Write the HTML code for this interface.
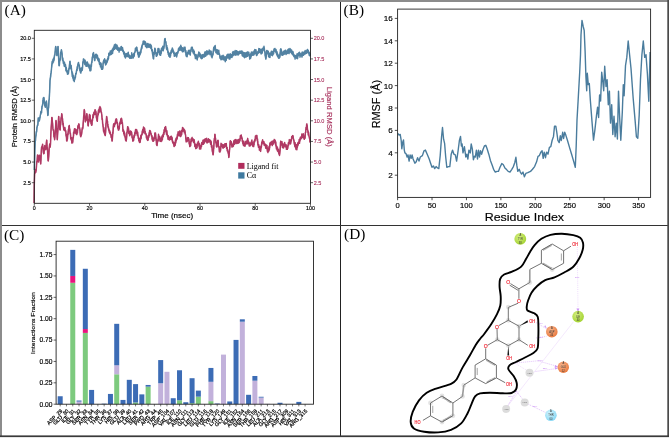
<!DOCTYPE html>
<html><head><meta charset="utf-8"><style>
html,body{margin:0;padding:0;background:#fff;}
#wrap{position:relative;width:669px;height:438px;overflow:hidden;background:#fff;}
svg{position:absolute;left:0;top:0;will-change:transform;}
</style></head><body><div id="wrap">
<svg width="669" height="438" viewBox="0 0 669 438">
<rect x="0" y="0" width="669" height="438" fill="#fff"/>
<text x="4.6" y="15.3" style="font-family:'Liberation Serif', serif;font-size:15.3px">(A)</text>
<polyline points="34.1,203 34.3,185 34.6,174 34.95,173.45 35.3,171 35.6,169.41 35.9,172.17 36.2,170 36.53,165.81 36.85,161.5 37.17,161.44 37.5,155 37.83,155.01 38.17,161.54 38.5,162 38.87,157.87 39.23,155.86 39.6,155.2 39.97,160.08 40.33,158.92 40.7,164 41,159.43 41.3,150.28 41.6,147 41.93,148.12 42.27,147.18 42.6,144.2 42.97,148.71 43.33,152.03 43.7,153.8 44.07,153.49 44.43,147.62 44.8,145.6 45.13,149.59 45.47,146.49 45.8,149.7 46.1,148.07 46.4,142.09 46.7,140.1 47.1,146.65 47.5,149.7 47.85,157.32 48.2,161 48.53,159.17 48.87,154.55 49.2,148.4 49.53,144.97 49.85,143.82 50.17,147.29 50.5,144.2 50.85,133.49 51.2,127.4 51.5,123.51 51.8,117.5 52.08,117.66 52.36,121.93 52.64,123.71 52.92,128.66 53.2,130.1 53.55,130.09 53.9,136.72 54.25,135.25 54.6,139.7 54.95,137.33 55.3,131.66 55.65,126.42 56,120.5 56.33,123.52 56.65,130.96 56.97,133.09 57.3,139.7 57.58,135.54 57.86,131.51 58.14,128.18 58.42,119.6 58.7,116.4 59.05,121.71 59.4,121.56 59.75,129.24 60.1,130.1 60.42,125.43 60.74,124.49 61.06,117.61 61.38,118.64 61.7,113.7 62,114.63 62.3,118.72 62.6,118.69 62.9,124.68 63.2,123.15 63.5,127.4 63.79,129.81 64.07,127.72 64.36,130.51 64.64,129.92 64.93,127.56 65.21,130.95 65.5,130.1 65.78,131.05 66.06,135.59 66.34,134.52 66.62,140.61 66.9,141.1 67.2,137.83 67.5,139.04 67.8,133.79 68.1,134.48 68.4,129.17 68.7,130.48 69,126 69.29,125.4 69.57,130.72 69.86,128.88 70.14,134.01 70.43,133.24 70.71,138.89 71,138.4 71.28,140.05 71.56,137.78 71.84,143.12 72.12,140.98 72.4,142.5 72.7,142.77 73,137.39 73.3,138 73.6,132.15 73.9,133.13 74.2,133.18 74.5,128.8 74.79,130.97 75.07,132.88 75.36,129 75.64,129.96 75.93,133.73 76.21,132.5 76.5,134.2 76.81,134.68 77.12,129.39 77.44,132.85 77.75,126.57 78.06,125.36 78.38,126.99 78.69,124.48 79,124 79.32,128.39 79.64,127.57 79.96,129.57 80.28,134.82 80.6,136.3 80.9,136.73 81.2,132.94 81.5,134.72 81.8,132.81 82.1,128.42 82.4,127.58 82.7,128.8 83.02,126.81 83.34,121.64 83.66,116.26 83.98,114.82 84.3,109.6 84.67,111.51 85.03,118.33 85.4,121.9 85.75,119.16 86.1,120.44 86.45,116.35 86.8,113.7 87.08,115.03 87.36,119.83 87.64,119.33 87.92,124.38 88.2,126 88.53,122.41 88.85,122.25 89.17,116.71 89.5,114.4 89.8,117.22 90.1,115.31 90.4,121.32 90.7,119.23 91,123.73 91.3,122.37 91.6,125.3 91.89,125.11 92.17,120.35 92.46,120.9 92.74,117.29 93.03,114.46 93.31,117.82 93.6,113.7 93.9,112.31 94.2,113.62 94.5,114.47 94.8,114.38 95.1,109.68 95.4,112.03 95.7,111 96.03,112.96 96.35,117.93 96.67,117.51 97,120.5 97.3,121.34 97.6,116.87 97.9,115.07 98.2,112.22 98.5,109.99 98.8,111 99.08,112.65 99.37,107.67 99.65,111.3 99.93,106.54 100.22,107.54 100.5,107.5 100.83,111.1 101.15,112.26 101.47,112.22 101.8,115.1 102.08,119.69 102.36,118.77 102.64,123.69 102.92,124.34 103.2,127.4 103.5,131.21 103.8,127.62 104.1,132.9 104.4,130.13 104.7,134.77 105,131.96 105.3,135.6 105.62,131.43 105.95,123.49 106.27,122.62 106.6,116.4 106.9,117.53 107.2,121.18 107.5,121.14 107.8,126.22 108.1,127.27 108.4,126.79 108.7,130.1 109,128.94 109.3,132.18 109.6,130.35 109.9,133.24 110.2,131.88 110.5,134.35 110.8,134.2 111.12,137.43 111.45,136.17 111.77,137.08 112.1,141.1 112.38,139.33 112.66,132.17 112.94,133.35 113.22,129.46 113.5,124.7 113.8,123.62 114.1,126.37 114.4,126.64 114.7,123.3 115,124 115.32,123.87 115.64,119.7 115.96,120.13 116.28,119.04 116.6,119.2 116.9,123.09 117.2,122.22 117.5,123.58 117.8,128.2 118.1,127.86 118.4,130.1 118.7,130.14 119,126.48 119.3,128.6 119.6,122.98 119.9,124.3 120.2,121.9 120.52,120.84 120.84,118.61 121.16,123.27 121.48,118.12 121.8,119.9 122.08,123.16 122.36,122.35 122.64,125.43 122.92,131.23 123.2,130.8 123.48,129.96 123.77,133.94 124.05,131.15 124.33,135.7 124.62,132.91 124.9,135.6 125.23,137.79 125.55,140.26 125.88,137.18 126.2,141.1 126.55,138.67 126.9,132.12 127.25,132.19 127.6,126.7 127.9,126.73 128.2,129.56 128.5,128.01 128.8,133.4 129.1,131.43 129.4,133.6 129.7,135.66 130,131.34 130.3,134.72 130.6,131.03 130.9,133.5 131.2,131.5 131.52,132.21 131.84,134.68 132.16,137.89 132.48,136.99 132.8,141.1 133.1,140.9 133.4,137.67 133.7,140.28 134,135.2 134.3,137.25 134.6,134.9 134.92,132.2 135.24,133.61 135.56,129.46 135.88,132.83 136.2,129.5 136.5,133.1 136.8,129.86 137.1,134.41 137.4,135.55 137.7,132.2 138,135.6 138.28,138.54 138.57,137.49 138.85,140.97 139.13,138.59 139.42,142.2 139.7,142.5 139.99,140.82 140.27,142.02 140.56,137.24 140.84,135.3 141.13,138.79 141.41,134.86 141.7,134.2 142,134.37 142.3,131.02 142.6,130.74 142.9,129.12 143.2,132.72 143.5,127.04 143.8,128.8 144.09,131.59 144.37,127.92 144.66,128.48 144.94,133.68 145.23,131.57 145.51,133.5 145.8,133.6 146.1,133.96 146.4,137.88 146.7,135.63 147,139.24 147.3,137.12 147.6,140.4 147.89,140.02 148.18,140.06 148.46,135.54 148.75,137.37 149.04,133.99 149.32,135.4 149.61,130.54 149.9,130.8 150.2,132.6 150.5,131.3 150.8,134.02 151.1,133.68 151.4,135.93 151.7,136.3 151.98,135.67 152.27,139.92 152.55,137.37 152.83,139.97 153.12,141.21 153.4,141.1 153.69,138.43 153.97,140.59 154.26,136.9 154.54,138.49 154.83,133.03 155.11,136.62 155.4,132.9 155.68,134.38 155.96,140.09 156.24,139.08 156.52,144.71 156.8,145.2 157.09,145.59 157.37,141.98 157.66,141.88 157.94,139.19 158.23,140.81 158.51,134.33 158.8,135.6 159.1,138.63 159.4,139.73 159.7,136.85 160,141.32 160.3,138.45 160.6,139.65 160.9,141.1 161.2,141.49 161.5,136.99 161.8,140.85 162.1,135.63 162.4,139.7 162.7,135.03 163,135.6 163.3,136.77 163.6,132.53 163.9,134.58 164.2,129.46 164.5,132 164.8,127.41 165.1,129.9 165.4,127.4 165.68,126.57 165.97,130.62 166.25,132.68 166.53,134.34 166.82,130.6 167.1,134.2 167.39,136.16 167.67,135.2 167.96,139.16 168.24,135.63 168.53,138.72 168.81,137.96 169.1,139.7 169.4,140.07 169.7,137.18 170,139.48 170.3,139.07 170.6,136.4 170.9,139.18 171.2,137 171.49,136.25 171.77,139.58 172.06,137.36 172.34,141 172.63,142.29 172.91,142.92 173.2,143.2 173.48,142.68 173.76,142.18 174.04,146.55 174.32,146 174.6,145.2 174.89,142.8 175.17,145.58 175.46,140.01 175.74,142.96 176.03,138.27 176.31,140.57 176.6,138.4 176.9,137.05 177.2,138.92 177.5,134.15 177.8,136.15 178.1,131.78 178.4,135.08 178.7,132.9 179,132.18 179.3,135.81 179.6,131.04 179.9,131.83 180.2,132.19 180.5,136.6 180.8,134.2 181.09,136.01 181.37,130.48 181.66,134.58 181.94,132.19 182.23,131.17 182.51,127.51 182.8,128.8 183.11,130.78 183.43,129.07 183.74,131 184.06,129.15 184.37,132.85 184.69,130.47 185,131.5 185.28,134.77 185.56,134.58 185.84,139.27 186.12,141.83 186.4,141.1 186.69,141.87 186.97,139.01 187.26,141.25 187.54,137.93 187.83,137.61 188.11,140.63 188.4,137.7 188.68,140.57 188.96,139 189.24,143.75 189.52,143.19 189.8,146.6 190.09,145.95 190.37,142.08 190.66,145.74 190.94,139.26 191.23,141.57 191.51,138.17 191.8,138.4 192.1,139.31 192.4,138.55 192.7,140.53 193,141.31 193.3,139.82 193.6,142.56 193.9,141.1 194.2,139.67 194.5,142.27 194.8,146.46 195.1,143.81 195.4,144.79 195.7,148.32 196,148.6 196.29,145.85 196.57,144.37 196.86,147.92 197.14,147.39 197.43,142.89 197.71,144.17 198,142.5 198.3,141.31 198.6,142.41 198.9,146.07 199.2,143.4 199.5,149.04 199.8,146.09 200.1,148 200.39,148.75 200.67,149.1 200.96,148.01 201.24,143.88 201.53,146.52 201.81,142.37 202.1,143.8 202.38,142.75 202.66,144.24 202.94,140.11 203.22,140.28 203.5,144.27 203.78,140.06 204.06,139.8 204.34,143.11 204.62,141.24 204.9,139.7 205.2,138.8 205.5,140.99 205.8,140.75 206.1,139.46 206.4,142.09 206.7,138.3 207,143.07 207.3,139.89 207.6,141.1 207.9,140.34 208.2,142.21 208.5,138.84 208.8,141.25 209.1,140.84 209.4,140.71 209.7,139.7 209.99,142.44 210.27,140.54 210.56,144.21 210.84,142 211.13,141.22 211.41,147.02 211.7,145.2 211.98,145.84 212.26,150.34 212.54,152.01 212.82,152.14 213.1,154.8 213.4,152.58 213.7,148.51 214,141.94 214.3,138.41 214.6,138.85 214.9,134.2 215.22,138.2 215.54,138.04 215.86,142.84 216.18,141.92 216.5,146.6 216.78,146.97 217.06,142.98 217.34,145.62 217.62,140.43 217.9,141.1 218.19,140.32 218.47,146.86 218.76,146.6 219.04,146.52 219.33,151.61 219.61,148.12 219.9,152.1 220.18,150.88 220.46,151.01 220.74,149.1 221.02,143.3 221.3,143.8 221.6,146.05 221.9,144.26 222.2,146.75 222.5,144.94 222.8,148.03 223.1,144.74 223.4,148 223.69,145.02 223.97,145.74 224.26,145.18 224.54,147.15 224.83,143.81 225.11,145.45 225.4,143.8 225.7,146.03 226,143.75 226.3,143.49 226.6,148.36 226.9,147.16 227.2,150.86 227.5,149.3 227.82,150.81 228.15,152.11 228.48,154.2 228.8,157.5 229.15,155.06 229.5,150.69 229.85,147.24 230.2,141.1 230.5,140.79 230.8,143.99 231.1,141.56 231.4,142.5 231.7,145.94 232,144 232.3,146.6 232.59,146.61 232.87,144.37 233.16,146.48 233.44,145.89 233.73,141.37 234.01,140.59 234.3,142.5 234.61,144.32 234.92,139.76 235.23,143.53 235.54,142.94 235.86,139.43 236.17,142.17 236.48,140.2 236.79,143.57 237.1,141.1 237.39,140.27 237.67,143.08 237.96,139.85 238.24,143.31 238.53,139.45 238.81,142.9 239.1,142.5 239.4,139.28 239.7,139.77 240,140.75 240.3,135.7 240.6,135.91 240.9,137.73 241.2,134.9 241.49,137.04 241.77,136.83 242.06,139.18 242.34,141.59 242.63,140.66 242.91,144.01 243.2,143.8 243.5,145.54 243.8,141.34 244.1,145.72 244.4,143.11 244.7,143.59 245,146.23 245.3,144.5 245.6,141.88 245.9,141.22 246.2,144.01 246.5,141.28 246.8,143.07 247.1,142.67 247.4,143.87 247.7,138.35 248,140.4 248.3,142.09 248.6,141.51 248.9,144.09 249.2,145.92 249.5,143.07 249.8,146.01 250.1,146 250.4,144.01 250.7,145.23 251,142.15 251.3,143.78 251.6,141.1 251.9,140.01 252.2,144.88 252.5,143.04 252.8,146.08 253.1,143.91 253.4,146.6 253.68,146.64 253.96,141.63 254.24,140.93 254.52,142.1 254.8,139.7 255.1,141 255.4,136.05 255.7,136.45 256,135.45 256.3,138.33 256.6,135.6 256.92,135.43 257.24,140.09 257.56,139 257.88,144.92 258.2,145.2 258.5,147.32 258.8,144.83 259.1,146.39 259.4,150.09 259.7,147.53 260,146.88 260.3,150 260.59,151.4 260.87,149.58 261.16,145.76 261.44,147.01 261.73,142.14 262.01,143.35 262.3,141.1 262.6,139.79 262.9,142.53 263.2,141.12 263.5,143.44 263.8,142.17 264.1,145.14 264.4,143.8 264.69,143.67 264.97,145.47 265.26,144.21 265.54,147.04 265.83,148.2 266.11,144.88 266.4,146.6 266.7,148.32 267,145.41 267.3,151.24 267.6,147.94 267.9,152.64 268.2,149 268.5,151.4 268.79,150.99 269.07,146.19 269.36,149.67 269.64,146.95 269.93,142.92 270.21,145.23 270.5,142.5 270.8,143.84 271.1,142.09 271.4,144.08 271.7,141.98 272,141.31 272.3,145.6 272.6,143.8 272.9,140.96 273.2,144.28 273.5,140.75 273.8,142.25 274.1,139.98 274.4,141.85 274.7,139.7 274.99,143.24 275.27,140.81 275.56,144.94 275.84,141.92 276.13,146.4 276.41,148.92 276.7,148 276.98,146.44 277.26,150.73 277.54,147.83 277.82,150.88 278.1,150.7 278.45,149.47 278.8,153.52 279.15,152.09 279.5,155.5 279.82,153.35 280.15,150.11 280.48,142.69 280.8,141.1 281.1,142.94 281.4,141.87 281.7,145.05 282,141.61 282.3,147.27 282.6,143.56 282.9,146.6 283.19,148.14 283.47,144.88 283.76,147.64 284.04,144.07 284.33,145.23 284.61,142.48 284.9,143.8 285.2,146.26 285.5,144.71 285.8,147.04 286.1,144.83 286.4,149.38 286.7,145.99 287,148.6 287.29,149.33 287.57,145.74 287.86,148.21 288.14,144.48 288.43,142.5 288.71,144.78 289,142.5 289.3,139.6 289.6,143.35 289.9,142.59 290.2,140.19 290.5,144.03 290.8,140.87 291.1,141.1 291.42,140.42 291.74,136.5 292.06,137.28 292.38,137.8 292.7,135.6 293,135.87 293.3,139.04 293.6,139.09 293.9,140.56 294.2,141.59 294.5,143.8 294.8,146.51 295.1,142.83 295.4,147.45 295.7,144.25 296,149.41 296.3,146.84 296.6,148 296.89,149.74 297.17,144.39 297.46,146.94 297.74,143.07 298.03,145.18 298.31,142.29 298.6,142.5 298.9,142.91 299.2,139.43 299.5,143.34 299.8,139.29 300.1,140.11 300.4,137.24 300.7,138.4 300.99,138.86 301.27,136.77 301.56,138.46 301.84,133.97 302.13,137.09 302.41,134.9 302.7,134.9 303,137.53 303.3,133.83 303.6,137.31 303.9,136.04 304.2,139.28 304.5,137.26 304.8,138.4 305.1,137.62 305.4,132.27 305.7,132.41 306,127.38 306.3,129.49 306.6,124.7 306.9,123.85 307.2,125.86 307.5,129.5 307.85,130.3 308.2,135.02 308.55,132.31 308.9,135.6 309.27,136.82 309.63,137.72 310,142.5" fill="none" stroke="#b03a64" stroke-width="1.45" stroke-linejoin="round"/>
<polyline points="34.1,203 34.3,185 34.6,174 35.3,171 35.75,171.31 36.2,170 36.63,163.39 37.07,159.32 37.5,155 38,159.11 38.5,162 38.87,158.03 39.23,158.79 39.6,155.2 39.97,157.25 40.33,162.96 40.7,164 41.15,155.14 41.6,147 42.1,146.2 42.6,144.2 42.97,149.24 43.33,152.48 43.7,153.8 44.07,148.96 44.43,149.14 44.8,145.6 45.3,148.89 45.8,149.7 46.25,143.52 46.7,140.1 47.1,145.91 47.5,149.7 47.85,154.43 48.2,161 48.7,156.56 49.2,148.4 49.63,144.83 50.07,146.97 50.5,144.2 50.85,135.22 51.2,127.4 51.8,117.5 52.15,121.81 52.5,123.09 52.85,127.75 53.2,130.1 53.67,131.84 54.13,137.07 54.6,139.7 55.07,132.53 55.53,127.59 56,120.5 56.43,126.43 56.87,135.41 57.3,139.7 57.65,132.2 58,127.64 58.35,124.06 58.7,116.4 59.17,122.49 59.63,124.43 60.1,130.1 60.5,124.01 60.9,121.19 61.3,116.77 61.7,113.7 62.06,117.03 62.42,120.64 62.78,121.19 63.14,126.08 63.5,127.4 63.9,126.94 64.3,129.45 64.7,128.38 65.1,130.1 65.5,130.1 65.85,132.39 66.2,136.97 66.55,137.95 66.9,141.1 67.32,139.05 67.74,134.72 68.16,131.48 68.58,129.85 69,126 69.4,128.01 69.8,131.98 70.2,133.78 70.6,134.66 71,138.4 71.35,138.13 71.7,142.03 72.05,141.09 72.4,142.5 72.82,141.79 73.24,136.21 73.66,136.2 74.08,130.11 74.5,128.8 74.9,130.67 75.3,130.25 75.7,132.44 76.1,132.63 76.5,134.2 76.86,134.19 77.21,129.51 77.57,131.06 77.93,127.42 78.29,128.06 78.64,123.51 79,124 79.4,128.94 79.8,129.25 80.2,133.62 80.6,136.3 80.95,134.04 81.3,135.77 81.65,132.96 82,130.73 82.35,129.12 82.7,128.8 83.1,122.65 83.5,119.54 83.9,112.45 84.3,109.6 84.67,114.93 85.03,116.82 85.4,121.9 85.87,118.44 86.33,118.01 86.8,113.7 87.15,118.08 87.5,121 87.85,121.43 88.2,126 88.63,120.12 89.07,118.85 89.5,114.4 89.92,114.73 90.34,119.65 90.76,121.83 91.18,122.69 91.6,125.3 92,124.67 92.4,118.99 92.8,116.14 93.2,114.9 93.6,113.7 93.95,115.14 94.3,111.93 94.65,112.88 95,109.71 95.35,112.28 95.7,111 96.13,112.99 96.57,117.72 97,120.5 97.36,117.65 97.72,115.91 98.08,112.87 98.44,115.09 98.8,111 99.22,108.89 99.65,110.44 100.08,109.71 100.5,107.5 100.93,109 101.37,113.25 101.8,115.1 102.15,117.78 102.5,120.59 102.85,125.76 103.2,127.4 103.62,127.05 104.04,131.98 104.46,133.05 104.88,132.42 105.3,135.6 105.73,131.32 106.17,120.86 106.6,116.4 106.95,120.58 107.3,120.54 107.65,125.31 108,124.29 108.35,128.6 108.7,130.1 109.12,130.57 109.54,133.49 109.96,131.82 110.38,135.02 110.8,134.2 111.23,134.46 111.67,139.32 112.1,141.1 112.45,139.07 112.8,134.78 113.15,127.12 113.5,124.7 113.88,125.96 114.25,123.77 114.62,125.62 115,124 115.4,121.27 115.8,122.89 116.2,118.43 116.6,119.2 116.96,123.23 117.32,122.16 117.68,127.81 118.04,125.81 118.4,130.1 118.76,130.05 119.12,128.43 119.48,124.7 119.84,124.64 120.2,121.9 120.6,123.2 121,122.07 121.4,119.01 121.8,119.9 122.15,123.1 122.5,124.75 122.85,128.97 123.2,130.8 123.62,132.72 124.05,134.08 124.48,132.25 124.9,135.6 125.33,137.97 125.77,138.81 126.2,141.1 126.67,137.03 127.13,131.14 127.6,126.7 127.96,128.5 128.32,128.07 128.68,129.28 129.04,133.86 129.4,133.6 129.76,131.25 130.12,133.19 130.48,131.04 130.84,133.71 131.2,131.5 131.6,132.25 132,137.42 132.4,137.84 132.8,141.1 133.16,141.23 133.52,139.47 133.88,136.87 134.24,136.77 134.6,134.9 135,135.68 135.4,130.36 135.8,131.75 136.2,129.5 136.56,129.56 136.92,133.59 137.28,132.04 137.64,135.15 138,135.6 138.43,136.32 138.85,141.04 139.27,140.26 139.7,142.5 140.1,142.7 140.5,138.06 140.9,137.85 141.3,135.07 141.7,134.2 142.05,135.32 142.4,131.39 142.75,133.23 143.1,128.88 143.45,131.21 143.8,128.8 144.2,131.58 144.6,128.95 145,133.04 145.4,134.13 145.8,133.6 146.16,134.59 146.52,137.29 146.88,136.81 147.24,140.12 147.6,140.4 147.98,140.24 148.37,135.41 148.75,136.93 149.13,132.32 149.52,134.4 149.9,130.8 150.26,130.53 150.62,133.78 150.98,132.84 151.34,134.79 151.7,136.3 152.12,139.21 152.55,136.78 152.97,141.67 153.4,141.1 153.8,138.07 154.2,138.9 154.6,137.88 155,133.42 155.4,132.9 155.75,137.61 156.1,137.37 156.45,143.21 156.8,145.2 157.2,143.86 157.6,141.85 158,140.87 158.4,135.44 158.8,135.6 159.22,137.98 159.64,135.98 160.06,139.68 160.48,138.88 160.9,141.1 161.32,138.04 161.74,139.3 162.16,138.51 162.58,135.44 163,135.6 163.4,133.63 163.8,134.54 164.2,130.11 164.6,131.76 165,130.34 165.4,127.4 165.82,127.64 166.25,132 166.68,130.82 167.1,134.2 167.5,136.62 167.9,135.02 168.3,137.88 168.7,136.92 169.1,139.7 169.52,137.56 169.94,138.02 170.36,139.6 170.78,136.95 171.2,137 171.6,139.55 172,137.82 172.4,141.19 172.8,140.67 173.2,143.2 173.55,145.19 173.9,143.29 174.25,146.43 174.6,145.2 175,142.68 175.4,144.06 175.8,141.94 176.2,138.56 176.6,138.4 177.02,138.15 177.44,134.36 177.86,135.43 178.28,132.59 178.7,132.9 179.05,133.9 179.4,131.71 179.75,134.14 180.1,134.92 180.45,131.99 180.8,134.2 181.2,134.13 181.6,130.47 182,130.3 182.4,131.85 182.8,128.8 183.17,127.58 183.53,131.37 183.9,131.12 184.27,129.63 184.63,129.29 185,131.5 185.35,131.94 185.7,138.41 186.05,137.3 186.4,141.1 186.8,141.84 187.2,138.88 187.6,137.95 188,139.07 188.4,137.7 188.75,138.88 189.1,143.05 189.45,145.59 189.8,146.6 190.2,143.83 190.6,144.79 191,141.12 191.4,141.63 191.8,138.4 192.22,136.84 192.64,140.12 193.06,138.2 193.48,142.28 193.9,141.1 194.32,140.56 194.74,146.23 195.16,144.98 195.58,148.87 196,148.6 196.4,146.59 196.8,144.87 197.2,145.45 197.6,144.15 198,142.5 198.42,142.6 198.84,142.82 199.26,144.29 199.68,148.61 200.1,148 200.5,145.06 200.9,145.87 201.3,146.26 201.7,142.67 202.1,143.8 202.45,144.17 202.8,142.32 203.15,143.81 203.5,142.31 203.85,141.76 204.2,139.77 204.55,140.71 204.9,139.7 205.29,138.82 205.67,141.39 206.06,138.7 206.44,139.3 206.83,141.78 207.21,139.8 207.6,141.1 208.02,141.7 208.44,139.31 208.86,140.86 209.28,140.97 209.7,139.7 210.1,142.28 210.5,140.9 210.9,144.11 211.3,142 211.7,145.2 212.05,148.33 212.4,152.06 212.75,154.34 213.1,154.8 213.46,149.01 213.82,148.48 214.18,141.2 214.54,139.03 214.9,134.2 215.3,135.36 215.7,141.55 216.1,142.81 216.5,146.6 216.85,147.12 217.2,144.88 217.55,141.51 217.9,141.1 218.3,142.48 218.7,146.42 219.1,147.1 219.5,151.45 219.9,152.1 220.25,150.84 220.6,146.52 220.95,146.37 221.3,143.8 221.72,143.44 222.14,146.59 222.56,145.5 222.98,147.94 223.4,148 223.8,145.3 224.2,147.43 224.6,144.77 225,146.77 225.4,143.8 225.82,145.85 226.24,144.86 226.66,148.22 227.08,147.12 227.5,149.3 227.93,153.2 228.37,152.76 228.8,157.5 229.27,152.84 229.73,147.79 230.2,141.1 230.55,140.81 230.9,141.24 231.25,144.86 231.6,142.87 231.95,147.65 232.3,146.6 232.7,144.67 233.1,145.79 233.5,142.08 233.9,143.81 234.3,142.5 234.7,141.18 235.1,140.17 235.5,142.78 235.9,139.6 236.3,143.04 236.7,140.07 237.1,141.1 237.5,143.41 237.9,143.4 238.3,139.98 238.7,141.75 239.1,142.5 239.52,142.34 239.94,138.68 240.36,138.66 240.78,136.05 241.2,134.9 241.6,138.81 242,137.93 242.4,138.2 242.8,142.9 243.2,143.8 243.55,142.21 243.9,145.2 244.25,143.63 244.6,146.24 244.95,145.62 245.3,144.5 245.69,141.93 246.07,143.93 246.46,141.16 246.84,143.47 247.23,139.47 247.61,142.5 248,140.4 248.42,140.52 248.84,144.02 249.26,143.29 249.68,145.28 250.1,146 250.47,145.48 250.85,145.04 251.22,143.53 251.6,141.1 251.96,141.71 252.32,144.93 252.68,142.37 253.04,147.04 253.4,146.6 253.75,142.78 254.1,145.22 254.45,139.99 254.8,139.7 255.16,140.18 255.52,137.01 255.88,138.44 256.24,135.68 256.6,135.6 257,139.2 257.4,142.32 257.8,141.28 258.2,145.2 258.55,146.94 258.9,147.76 259.25,146.22 259.6,149.68 259.95,150.49 260.3,150 260.7,147.5 261.1,148.16 261.5,143.6 261.9,144.79 262.3,141.1 262.72,143.06 263.14,141.24 263.56,143.16 263.98,141.21 264.4,143.8 264.8,145.95 265.2,146.02 265.6,144.66 266,144.42 266.4,146.6 266.75,149.19 267.1,148.62 267.45,147.8 267.8,150.58 268.15,149.03 268.5,151.4 268.9,151.2 269.3,146.74 269.7,148 270.1,142.71 270.5,142.5 270.85,144.26 271.2,142.01 271.55,145.14 271.9,141.82 272.25,144.5 272.6,143.8 273.02,141.65 273.44,143.7 273.86,142.4 274.28,138.87 274.7,139.7 275.1,139.97 275.5,145.02 275.9,145.09 276.3,146.85 276.7,148 277.05,147.41 277.4,148.58 277.75,152.15 278.1,150.7 278.57,151.11 279.03,154.75 279.5,155.5 279.93,149.33 280.37,147.16 280.8,141.1 281.22,144.37 281.64,142.34 282.06,145.87 282.48,144.93 282.9,146.6 283.3,144.67 283.7,144.75 284.1,146.33 284.5,143.7 284.9,143.8 285.25,145.98 285.6,144.48 285.95,146.74 286.3,146.56 286.65,147 287,148.6 287.4,147.93 287.8,146.54 288.2,146.26 288.6,145.71 289,142.5 289.35,141.84 289.7,142.45 290.05,142.4 290.4,139.47 290.75,143.52 291.1,141.1 291.5,138.67 291.9,137.61 292.3,138.08 292.7,135.6 293.06,136.35 293.42,136.7 293.78,141.78 294.14,144.26 294.5,143.8 294.85,142.51 295.2,145.7 295.55,144.88 295.9,148.71 296.25,145.76 296.6,148 297,147.47 297.4,147.84 297.8,142.74 298.2,145.19 298.6,142.5 299.02,143.21 299.44,140.43 299.86,141.45 300.28,137.81 300.7,138.4 301.1,138.5 301.5,135.77 301.9,137.06 302.3,133.9 302.7,134.9 303.05,136.09 303.4,135.08 303.75,138.79 304.1,139.04 304.45,139.63 304.8,138.4 305.16,133.59 305.52,133.64 305.88,129.62 306.24,128.79 306.6,124.7 307.05,125.38 307.5,129.5 307.97,132.78 308.43,131.48 308.9,135.6 309.27,138.94 309.63,139.3 310,142.5" fill="none" stroke="#b03a64" stroke-width="1.0" stroke-linejoin="round" opacity="0.8"/>
<polyline points="34.4,170 34.8,151 35.2,141.5 35.5,140.58 35.8,136 36.2,131.72 36.6,131.9 36.9,127.53 37.2,126.9 37.5,125.1 37.83,125.37 38.17,118.03 38.5,118.2 38.9,121.08 39.3,121 39.63,117.51 39.97,117.77 40.3,115.5 40.6,113.52 40.9,111.47 41.2,112.7 41.57,112.7 41.93,106.41 42.3,106 42.58,104.71 42.86,103.49 43.14,98.24 43.42,98.13 43.7,97.5 44.03,97.98 44.35,102.62 44.67,105.87 45,106 45.35,107.21 45.7,102.27 46.05,102.99 46.4,101 46.75,103.53 47.1,108.66 47.45,110.69 47.8,115.5 48.08,114.6 48.36,108.01 48.64,107.98 48.92,100.14 49.2,99.6 49.6,92.28 50,80.7 50.37,78.48 50.73,74.12 51.1,72.7 51.4,70.28 51.7,66.18 52,63.29 52.3,61.3 52.58,63.64 52.87,62.1 53.15,59.09 53.43,61.15 53.72,58.07 54,60.1 54.28,57.33 54.57,54.92 54.85,55.06 55.13,52.15 55.42,50.34 55.7,46.4 56,47.57 56.3,51.58 56.6,51.31 56.9,55.6 57.27,51.76 57.63,52.14 58,46.4 58.37,51.53 58.73,61.1 59.1,65.8 59.39,65.25 59.67,61.27 59.96,59.32 60.25,60.13 60.54,53.72 60.83,51.95 61.11,52.45 61.4,49.8 61.68,50.97 61.97,52.55 62.25,58.25 62.53,60.11 62.82,57.86 63.1,61.3 63.38,63.37 63.67,61.1 63.95,64.27 64.23,66.17 64.52,62.58 64.8,64.7 65.1,66.26 65.4,64.4 65.7,66.32 66,70.68 66.3,67.52 66.6,70.4 66.88,72.21 67.17,70.48 67.45,74.27 67.73,71.59 68.02,71.34 68.3,73.8 68.58,72.15 68.87,68.65 69.15,69.02 69.43,67.36 69.72,62.18 70,61.3 70.28,65.1 70.57,65.91 70.85,68.8 71.13,65.45 71.42,68.21 71.7,71.5 71.99,73.44 72.28,76.36 72.56,72.96 72.85,78.18 73.14,75.05 73.42,80.33 73.71,77.71 74,80.7 74.29,81.57 74.58,78.23 74.86,79.12 75.15,75.79 75.44,77.55 75.72,73.21 76.01,74.23 76.3,72.7 76.61,70.1 76.93,70.61 77.24,66.81 77.56,68.62 77.87,64.39 78.19,63.46 78.5,62.4 78.8,64.96 79.1,64.76 79.4,65.69 79.7,70.28 80,68.33 80.3,71.5 80.58,72.87 80.87,73.05 81.15,68.13 81.43,71.29 81.72,67.89 82,69.3 82.28,70.19 82.57,67.67 82.85,61.69 83.13,63.09 83.42,58.9 83.7,59 83.98,61.6 84.27,61.77 84.55,60.33 84.83,64.64 85.12,60.14 85.4,63.5 85.69,61.73 85.98,66.16 86.26,62.14 86.55,66.16 86.84,62.44 87.12,64.18 87.41,62.08 87.7,63.5 88.01,66.47 88.32,65.47 88.63,64.77 88.94,64.37 89.26,68.35 89.57,65.43 89.88,70.67 90.19,67.75 90.5,70.4 90.8,70.61 91.1,64.45 91.4,66.33 91.7,61.71 92,62.37 92.3,56.89 92.6,57.59 92.9,53.75 93.2,53.3 93.53,52.56 93.85,57.14 94.17,57.01 94.5,60.1 94.8,60.71 95.1,55.74 95.4,54.54 95.7,54.4 95.99,57.34 96.28,54.46 96.56,55.57 96.85,54.7 97.14,58.34 97.42,55.35 97.71,59.93 98,59 98.31,58.1 98.63,61.04 98.94,58.66 99.26,62.5 99.57,64.44 99.89,62.39 100.2,63.5 100.49,66.88 100.78,66.96 101.06,63.34 101.35,68.29 101.64,69.17 101.92,66.77 102.21,67.83 102.5,69.3 102.8,68.35 103.1,62.87 103.4,63.05 103.7,60.1 104.01,59.91 104.32,62.58 104.63,58.81 104.94,63.01 105.26,60.21 105.57,64.93 105.88,62.21 106.19,63.87 106.5,63.5 106.79,60.91 107.08,59.78 107.37,61.45 107.66,58.43 107.95,59.99 108.24,56.44 108.53,58.46 108.82,53.3 109.11,54.92 109.4,53.3 109.69,52.69 109.98,55.07 110.26,50.88 110.55,54.45 110.84,52.83 111.12,53.83 111.41,50.71 111.7,53.3 111.99,53.5 112.28,49.24 112.56,53.45 112.85,48.61 113.14,50.68 113.42,47.21 113.71,49.6 114,47.6 114.31,45.03 114.63,49.34 114.94,44.47 115.26,48.34 115.57,44.21 115.89,46.68 116.2,45.8 116.49,45.43 116.78,49.25 117.06,45.15 117.35,49.28 117.64,50.13 117.92,47.33 118.21,50.06 118.5,49.8 118.8,48.46 119.1,52.07 119.4,48.57 119.7,50.26 120,49.4 120.28,48.17 120.57,49.31 120.85,49.8 121.13,50.25 121.42,46.5 121.7,47.7 121.98,47.69 122.27,50.11 122.55,47.62 122.83,51.23 123.12,50.1 123.4,51.7 123.69,53.66 123.98,54.22 124.26,52.13 124.55,56.34 124.84,54.11 125.12,57.47 125.41,58.05 125.7,56.8 125.98,53.59 126.27,56.21 126.55,53.75 126.83,56.2 127.12,55.56 127.4,53.4 127.69,53.24 127.98,56.79 128.27,52.23 128.56,56.2 128.85,54.38 129.14,57.15 129.43,55.51 129.72,57.57 130.01,58.36 130.3,58 130.58,56.1 130.87,57.47 131.15,55.65 131.43,58.25 131.72,52.8 132,54.6 132.37,55.98 132.73,54.95 133.1,57.4 133.38,57.82 133.67,53.63 133.95,53.74 134.23,56.3 134.52,52.48 134.8,52.3 135.1,52.04 135.4,48.28 135.7,50.4 136,47.87 136.3,49.36 136.6,47.1 136.88,47.47 137.17,51.78 137.45,50.24 137.73,53.7 138.02,52.4 138.3,55.1 138.58,57.15 138.87,52.47 139.15,57 139.43,53.35 139.72,52.77 140,54.6 140.29,51.3 140.57,53.17 140.86,52.21 141.15,49.14 141.44,49.48 141.73,46.19 142.01,48.18 142.3,44.8 142.59,43.91 142.88,44.65 143.16,41.15 143.45,41.29 143.74,44.06 144.03,41.09 144.31,43.57 144.6,41.4 144.88,44.42 145.17,41.68 145.45,46.28 145.73,42.64 146.02,46.83 146.3,47.1 146.58,44.21 146.87,47.73 147.15,43.78 147.43,43.94 147.72,43.41 148,44.8 148.29,47.22 148.57,44.57 148.86,44.77 149.15,46.91 149.44,46.86 149.73,44.66 150.01,47.55 150.3,46 150.58,44.54 150.87,48.55 151.15,45.34 151.43,46.31 151.72,50.66 152,50 152.32,49.81 152.65,54.74 152.98,55.74 153.3,58.5 153.6,58.93 153.9,52.19 154.2,54.35 154.5,52.18 154.8,48.3 155.08,50.9 155.37,49.39 155.65,53.13 155.93,52.5 156.22,56.09 156.5,56.3 156.8,53.55 157.1,55.12 157.4,54.83 157.7,53.29 158,48.41 158.3,48.8 158.58,50.9 158.87,48.57 159.15,52.46 159.43,51.66 159.72,54.87 160,54 160.29,51.38 160.57,55.39 160.86,50.23 161.15,53.83 161.44,48.52 161.73,48.57 162.01,47.87 162.3,49.4 162.58,49.9 162.87,46.17 163.15,50.89 163.43,46.56 163.72,48.78 164,47.1 164.37,42.36 164.73,38.94 165.1,38.6 165.47,42.36 165.83,41.55 166.2,46 166.5,49 166.8,45.46 167.1,49.96 167.4,47.97 167.7,49.96 168,51.7 168.28,54.53 168.57,52.48 168.85,56.01 169.13,56.44 169.42,53.65 169.7,55.7 169.99,57.39 170.27,53.08 170.56,55.96 170.85,52.08 171.14,53.46 171.43,50.15 171.71,51.96 172,49.4 172.28,48.08 172.57,51.28 172.85,49.08 173.13,50.93 173.42,50.85 173.7,53.4 173.99,52.76 174.27,56.31 174.56,53.63 174.85,55.31 175.14,54.08 175.43,55.77 175.71,53.32 176,55.7 176.31,52.79 176.63,56.91 176.94,55.57 177.26,53.71 177.57,51.86 177.89,53.02 178.2,51.1 178.49,48.63 178.77,50.7 179.06,47.95 179.35,49.77 179.64,47.34 179.93,49.64 180.21,50.17 180.5,47.1 180.79,45.31 181.07,48.91 181.36,46.68 181.65,50.65 181.94,50.19 182.23,47.73 182.51,51.85 182.8,50 183.08,48.53 183.37,51.58 183.65,48.33 183.93,49.42 184.22,47.51 184.5,47.7 184.79,49.4 185.07,47.19 185.36,52.22 185.65,52.62 185.94,50.81 186.23,56.31 186.51,54.78 186.8,56.3 187.08,56.81 187.37,52.81 187.65,54.36 187.93,53.92 188.22,50.95 188.5,50.6 188.8,53.76 189.1,50.15 189.4,53.59 189.7,51.44 190,53.4 190.28,55.11 190.57,50 190.85,51.56 191.13,48.98 191.42,47.27 191.7,48.8 191.98,47.83 192.27,47.26 192.55,48.95 192.83,51.37 193.12,52.99 193.4,50.6 193.68,50.08 193.97,53.78 194.25,51.22 194.53,54.79 194.82,54.28 195.1,55.7 195.4,58.55 195.7,57.32 196,54.54 196.3,55.45 196.6,58.56 196.9,58 197.21,59.99 197.53,56.03 197.84,57.3 198.16,54.45 198.47,55.9 198.79,51.93 199.1,54 199.39,55.04 199.68,52.97 199.96,56.53 200.25,53.96 200.54,55.17 200.82,57.56 201.11,54.89 201.4,57.4 201.69,58.7 201.97,56.55 202.26,58.13 202.55,54.74 202.84,56.87 203.12,55.63 203.41,57.11 203.7,55.7 203.99,54.32 204.27,57.03 204.56,56.09 204.85,52.51 205.14,51.68 205.43,52.88 205.71,56.23 206,53.4 206.29,51.89 206.57,54.87 206.86,50.65 207.15,54.77 207.44,53.75 207.73,51.41 208.01,53.76 208.3,52.8 208.59,52.2 208.88,53.87 209.16,49.99 209.45,53.59 209.74,50.38 210.03,54.73 210.31,51.07 210.6,52.3 210.88,53.94 211.17,51.22 211.45,56.76 211.73,54.25 212.02,57.74 212.3,56.3 212.67,53.97 213.03,54.8 213.4,50.6 213.7,47.5 214,50.96 214.3,46.44 214.6,49.61 214.9,47.1 215.18,45.56 215.46,49.73 215.74,49.6 216.02,52.72 216.3,52.3 216.61,49.76 216.93,52.69 217.24,49.7 217.56,54.09 217.87,50.78 218.19,53.93 218.5,51.7 218.8,50.27 219.1,54.56 219.4,53.84 219.7,55.02 220,58.16 220.3,58 220.61,56.53 220.93,59.73 221.24,57.02 221.56,59.64 221.87,55.85 222.19,56.75 222.5,57.4 222.8,59.12 223.1,55.3 223.4,59.88 223.7,55.93 224,57.24 224.3,58.5 224.62,59.95 224.95,56.95 225.28,61.7 225.6,60.3 225.9,56.66 226.2,60.39 226.5,56.54 226.8,58.48 227.1,55.1 227.39,54.79 227.68,54.24 227.96,57.8 228.25,54.61 228.54,56.79 228.82,54.32 229.11,58.99 229.4,56.8 229.69,55.49 229.97,58.95 230.26,53.7 230.55,56.59 230.84,54.81 231.12,57.23 231.41,54.66 231.7,55.1 231.99,57.43 232.27,56.15 232.56,52.29 232.85,55.89 233.14,51.37 233.43,55.23 233.71,51.94 234,53.4 234.28,51.9 234.56,54.77 234.84,54.35 235.12,50.45 235.4,55.12 235.68,52.01 235.96,55.19 236.24,51.1 236.52,50.69 236.8,52.3 237.09,53.49 237.38,51.58 237.66,54.86 237.95,52.14 238.24,54.99 238.53,52.48 238.81,52.55 239.1,53.4 239.39,53.8 239.68,51.15 239.96,51.98 240.25,53.2 240.54,51.35 240.82,52.65 241.11,51.23 241.4,51.7 241.68,53.44 241.97,50.96 242.25,55.81 242.53,55.02 242.82,52.12 243.1,55.1 243.39,56.47 243.68,52.45 243.97,57.01 244.26,53.02 244.55,57.67 244.84,52.74 245.13,56.47 245.42,57.06 245.71,53.02 246,55.1 246.31,56.9 246.63,52.38 246.94,55.91 247.26,51.91 247.57,56.21 247.89,52.01 248.2,53.4 248.5,54.85 248.8,52.29 249.1,54.75 249.4,54.57 249.7,59.12 250,58 250.28,56.2 250.57,58.38 250.85,53.59 251.13,56.34 251.42,52.07 251.7,53.4 251.98,55.37 252.27,52.37 252.55,54.55 252.83,51.87 253.12,54.94 253.4,54.6 253.68,51.85 253.97,54.89 254.25,50.6 254.53,53.87 254.82,49.45 255.1,51.1 255.39,53.3 255.67,53.64 255.96,49.83 256.25,53 256.54,55.59 256.82,52.72 257.11,54.27 257.4,54 257.68,52.82 257.97,53.28 258.25,51.21 258.53,53.03 258.82,48.57 259.1,50.6 259.39,48.75 259.68,52.2 259.96,49.67 260.25,52.6 260.54,49.29 260.82,49.45 261.11,53.97 261.4,51.7 261.68,53.54 261.97,49.01 262.25,52.98 262.53,48.74 262.82,50.94 263.1,49.4 263.4,47.16 263.7,49.7 264,46.24 264.3,48.3 264.6,51.08 264.9,51.38 265.2,55.85 265.5,56.19 265.8,59.1 266.12,57.62 266.45,53.18 266.78,50.41 267.1,50.6 267.39,53.84 267.68,51.27 267.96,53.28 268.25,51.31 268.54,56.41 268.82,52.36 269.11,57.22 269.4,56.3 269.68,54.33 269.97,57.43 270.25,53.47 270.53,53.4 270.82,54.29 271.1,52.8 271.38,51.23 271.67,55.28 271.95,52.26 272.23,51.41 272.52,55.76 272.8,54 273.1,51.54 273.4,54.14 273.7,53.27 274,48.95 274.3,51.09 274.6,48.8 274.88,48.42 275.17,50.7 275.45,49.84 275.73,52.08 276.02,49.59 276.3,52.8 276.58,54.01 276.87,51.39 277.15,55.74 277.43,53.16 277.72,56.35 278,56.3 278.28,57.64 278.57,55.22 278.85,56.31 279.13,58.09 279.42,54.93 279.7,57.4 280.07,55.73 280.43,49.32 280.8,48.8 281.1,51.82 281.4,50.13 281.7,54.91 282,55.1 282.28,53.12 282.57,52.86 282.85,55.19 283.13,52.03 283.42,54.36 283.7,51.7 283.98,51.11 284.26,54.3 284.54,51.29 284.82,53 285.1,51.52 285.38,52.84 285.66,50.12 285.94,54.54 286.22,54.07 286.5,52.3 286.79,53.04 287.07,51.01 287.36,52.74 287.65,53.26 287.94,49.36 288.23,50.55 288.51,49.08 288.8,51.7 289.08,53.64 289.37,49.88 289.65,51.95 289.93,48.42 290.22,51.77 290.5,50.6 290.8,49.56 291.1,52.78 291.4,51.21 291.7,50.15 292,53.98 292.3,52.8 292.61,51.74 292.93,51.61 293.24,55.48 293.56,54.02 293.87,54.79 294.19,56.83 294.5,56.3 294.79,55.85 295.07,59.1 295.36,55.58 295.65,57.03 295.94,55.77 296.23,55.55 296.51,57.29 296.8,56.8 297.09,53.84 297.38,58.77 297.66,58.18 297.95,54.91 298.24,55.98 298.53,53.09 298.81,55.3 299.1,54.6 299.39,52.31 299.68,52.65 299.96,57.28 300.25,53.57 300.54,55.97 300.82,53.97 301.11,55.72 301.4,55.1 301.69,53.84 301.97,57.13 302.26,51.91 302.55,55.71 302.84,52.36 303.12,55.24 303.41,55.31 303.7,52.8 303.99,51.99 304.27,54.42 304.56,52.19 304.85,53.48 305.14,50.56 305.43,53.48 305.71,51.48 306,52.3 306.37,51.06 306.73,53.19 307.1,50.6 307.38,49.44 307.67,49.48 307.95,52.29 308.23,50.59 308.52,53.06 308.8,52.8 309.1,52.18 309.4,55.56 309.7,55.64 310,53.33 310.3,55.7" fill="none" stroke="#5282a2" stroke-width="1.45" stroke-linejoin="round"/>
<polyline points="34.4,170 34.8,151 35.2,141.5 35.8,136 36.2,136.09 36.6,131.9 37.05,126.79 37.5,125.1 38,123.82 38.5,118.2 38.9,117.63 39.3,121 39.8,120.18 40.3,115.5 40.75,114.88 41.2,112.7 41.57,108.81 41.93,109.06 42.3,106 42.65,101.94 43,99.93 43.35,101.68 43.7,97.5 44.13,99.57 44.57,104.28 45,106 45.47,102.95 45.93,104.06 46.4,101 46.87,107.37 47.33,108.72 47.8,115.5 48.15,110.28 48.5,107.18 48.85,104.23 49.2,99.6 49.6,91.77 50,80.7 50.37,77.17 50.73,77.36 51.1,72.7 51.5,68.35 51.9,66.31 52.3,61.3 52.72,62.37 53.15,59.43 53.58,62.5 54,60.1 54.42,55.91 54.85,55.12 55.28,47.8 55.7,46.4 56.1,50.62 56.5,50.51 56.9,55.6 57.27,53.75 57.63,48.22 58,46.4 58.37,54.77 58.73,61.05 59.1,65.8 59.48,62.73 59.87,58.37 60.25,59.06 60.63,52.98 61.02,52.91 61.4,49.8 61.83,54.07 62.25,53.77 62.67,60.05 63.1,61.3 63.52,61.66 63.95,63.95 64.38,62.81 64.8,64.7 65.16,67.33 65.52,65.54 65.88,69.99 66.24,71.26 66.6,70.4 67.02,71.61 67.45,71.12 67.88,74.25 68.3,73.8 68.72,69.88 69.15,66.6 69.58,62.82 70,61.3 70.42,64.78 70.85,64.76 71.28,69.39 71.7,71.5 72.08,71.09 72.47,75.1 72.85,77.51 73.23,75.63 73.62,79.68 74,80.7 74.38,77.66 74.77,79.27 75.15,77.77 75.53,75.03 75.92,74.65 76.3,72.7 76.67,69.09 77.03,70.68 77.4,65.81 77.77,66.6 78.13,62.81 78.5,62.4 78.86,65.54 79.22,65.42 79.58,69.65 79.94,67.73 80.3,71.5 80.72,69.38 81.15,71.24 81.58,69.01 82,69.3 82.42,66.28 82.85,62.52 83.28,62.09 83.7,59 84.12,59.41 84.55,63.07 84.98,61.04 85.4,63.5 85.78,62.74 86.17,65.45 86.55,62.39 86.93,65.47 87.32,62.11 87.7,63.5 88.1,65.71 88.5,64.27 88.9,67.6 89.3,65.38 89.7,67.64 90.1,69.04 90.5,70.4 90.89,69.97 91.27,63.93 91.66,61.6 92.04,61.02 92.43,56.99 92.81,56.8 93.2,53.3 93.63,56.65 94.07,56.08 94.5,60.1 94.9,60.31 95.3,55.07 95.7,54.4 96.08,53.77 96.47,56.66 96.85,54.95 97.23,59.03 97.62,56.63 98,59 98.37,61.69 98.73,59.84 99.1,59.23 99.47,63.99 99.83,61.92 100.2,63.5 100.58,66.52 100.97,63.87 101.35,67.01 101.73,69.56 102.12,66.52 102.5,69.3 102.9,67.36 103.3,61.31 103.7,60.1 104.1,61.79 104.5,59.99 104.9,59.6 105.3,62.97 105.7,60.37 106.1,64.59 106.5,63.5 106.86,61.65 107.22,62.54 107.59,58.12 107.95,60.02 108.31,56.32 108.68,56.65 109.04,53.9 109.4,53.3 109.78,55.13 110.17,53.93 110.55,51.74 110.93,51.92 111.32,55.07 111.7,53.3 112.08,50.69 112.47,53.25 112.85,48.68 113.23,50.49 113.62,47.25 114,47.6 114.37,48.73 114.73,45.99 115.1,48.77 115.47,46.06 115.83,44.11 116.2,45.8 116.58,44.95 116.97,47.59 117.35,48.95 117.73,46.97 118.12,50.19 118.5,49.8 118.88,47.87 119.25,50.3 119.62,47.64 120,49.4 120.42,49.56 120.85,46.44 121.28,45.99 121.7,47.7 122.12,49.97 122.55,48.28 122.98,51.93 123.4,51.7 123.78,50.95 124.17,54.46 124.55,52.57 124.93,52.96 125.32,54.03 125.7,56.8 126.12,57.21 126.55,53.28 126.98,56.32 127.4,53.4 127.76,54.83 128.12,56.29 128.49,55.66 128.85,55.08 129.21,55.49 129.58,58.59 129.94,55.91 130.3,58 130.73,58.19 131.15,57.88 131.57,53.75 132,54.6 132.37,56.18 132.73,58.56 133.1,57.4 133.53,55.11 133.95,55.43 134.38,52.43 134.8,52.3 135.16,52.49 135.52,49.64 135.88,50.74 136.24,50.34 136.6,47.1 137.03,50.13 137.45,50.15 137.88,55.02 138.3,55.1 138.73,53.6 139.15,56.04 139.57,56.29 140,54.6 140.38,52.33 140.77,52.95 141.15,48.29 141.53,46.47 141.92,45.42 142.3,44.8 142.68,45.08 143.07,44.45 143.45,42.64 143.83,41.81 144.22,42.97 144.6,41.4 145.03,41.13 145.45,45.37 145.88,45.31 146.3,47.1 146.73,48.06 147.15,45.35 147.57,43.2 148,44.8 148.38,45.93 148.77,43.54 149.15,46.75 149.53,47.26 149.92,43.77 150.3,46 150.73,47.37 151.15,47.11 151.57,50.02 152,50 152.43,54.3 152.87,55.21 153.3,58.5 153.68,56.98 154.05,52.14 154.43,52.17 154.8,48.3 155.23,48.19 155.65,53.32 156.07,52.4 156.5,56.3 156.86,56.32 157.22,52.95 157.58,51.34 157.94,50.69 158.3,48.8 158.73,48.81 159.15,49.57 159.57,53.04 160,54 160.38,51.51 160.77,51.89 161.15,53.18 161.53,52.85 161.92,48.25 162.3,49.4 162.73,51 163.15,46.25 163.57,48.97 164,47.1 164.37,46.4 164.73,39.43 165.1,38.6 165.47,41.59 165.83,41.57 166.2,46 166.56,48.27 166.92,49.57 167.28,47.33 167.64,52.75 168,51.7 168.43,51.43 168.85,53.12 169.27,55.52 169.7,55.7 170.08,55.14 170.47,52.26 170.85,53.27 171.23,50.44 171.62,50.03 172,49.4 172.43,52.32 172.85,50.55 173.27,53.05 173.7,53.4 174.08,51.73 174.47,54.81 174.85,54.98 175.23,56.05 175.62,54.28 176,55.7 176.37,53.38 176.73,54.63 177.1,52.63 177.47,53.56 177.83,51.27 178.2,51.1 178.58,51 178.97,48.43 179.35,47.32 179.73,50.49 180.12,46.64 180.5,47.1 180.88,49.03 181.27,46.5 181.65,49.28 182.03,47.88 182.42,50.91 182.8,50 183.23,48.3 183.65,50.31 184.07,46.72 184.5,47.7 184.88,51.19 185.27,49.49 185.65,54.08 186.03,55.43 186.42,54.11 186.8,56.3 187.23,56.39 187.65,52.33 188.07,53.99 188.5,50.6 188.88,50.52 189.25,50.22 189.62,54.52 190,53.4 190.43,50.76 190.85,51.76 191.27,50.48 191.7,48.8 192.12,48.33 192.55,51.71 192.97,49.78 193.4,50.6 193.82,51.11 194.25,55.32 194.68,55.05 195.1,55.7 195.46,56.97 195.82,54.76 196.18,57.75 196.54,56.94 196.9,58 197.27,56.95 197.63,58.58 198,54.81 198.37,53.29 198.73,54.24 199.1,54 199.48,56.28 199.87,53.89 200.25,57.53 200.63,54.14 201.02,58.79 201.4,57.4 201.78,56.72 202.17,58.56 202.55,56.1 202.93,54.21 203.32,54.33 203.7,55.7 204.08,56.47 204.47,54.17 204.85,56.48 205.23,52.01 205.62,54.29 206,53.4 206.38,55.28 206.77,52.44 207.15,53.91 207.53,51.57 207.92,54.61 208.3,52.8 208.68,51.64 209.07,53.54 209.45,51.73 209.83,53.98 210.22,53.09 210.6,52.3 211.03,52.58 211.45,55.16 211.88,53.39 212.3,56.3 212.67,56.5 213.03,51.42 213.4,50.6 213.78,48.88 214.15,50.04 214.53,46.36 214.9,47.1 215.25,48.76 215.6,47.64 215.95,52.76 216.3,52.3 216.67,51.6 217.03,54.23 217.4,50.67 217.77,52.27 218.13,52.49 218.5,51.7 218.86,54.41 219.22,53.5 219.58,55.92 219.94,55.62 220.3,58 220.67,58.64 221.03,56.66 221.4,58.4 221.77,56.83 222.13,58.09 222.5,57.4 222.86,55.51 223.22,57.44 223.58,57.18 223.94,59.57 224.3,58.5 224.73,58.13 225.17,61.06 225.6,60.3 225.97,57.99 226.35,58.25 226.72,54.97 227.1,55.1 227.48,56.57 227.87,54.41 228.25,57.19 228.63,54.06 229.02,54.75 229.4,56.8 229.78,57.82 230.17,54.79 230.55,57.75 230.93,57.43 231.32,54.19 231.7,55.1 232.08,55.85 232.47,53.31 232.85,54.6 233.23,55.01 233.62,51.77 234,53.4 234.35,55.05 234.7,51.8 235.05,54.26 235.4,52.02 235.75,54.42 236.1,51.91 236.45,54.4 236.8,52.3 237.18,54.65 237.57,53.67 237.95,51.04 238.33,55.04 238.72,51.49 239.1,53.4 239.48,53.88 239.87,51.23 240.25,53.45 240.63,53.98 241.02,50.82 241.4,51.7 241.82,54.27 242.25,51.9 242.68,56.31 243.1,55.1 243.46,53.47 243.82,53.11 244.19,56.44 244.55,53.93 244.91,55.85 245.28,53.55 245.64,57.01 246,55.1 246.37,53.25 246.73,53.56 247.1,55.2 247.47,53.28 247.83,54.6 248.2,53.4 248.56,52.44 248.92,56.18 249.28,55.15 249.64,58.72 250,58 250.43,55.25 250.85,57.63 251.27,52.75 251.7,53.4 252.12,54.84 252.55,53.5 252.97,55.81 253.4,54.6 253.82,52.01 254.25,53.26 254.68,49.82 255.1,51.1 255.48,52.23 255.87,50.55 256.25,53.21 256.63,52.06 257.02,55.58 257.4,54 257.82,50.96 258.25,51.58 258.68,52.02 259.1,50.6 259.48,49.41 259.87,52.73 260.25,48.99 260.63,53.23 261.02,49.34 261.4,51.7 261.82,53.17 262.25,52.29 262.68,49.27 263.1,49.4 263.5,48.31 263.9,49.16 264.3,48.3 264.68,52.74 265.05,53.29 265.43,58.25 265.8,59.1 266.23,55.42 266.67,52.06 267.1,50.6 267.48,53.73 267.87,51.31 268.25,51.38 268.63,56.39 269.02,54.98 269.4,56.3 269.82,56.06 270.25,53.72 270.68,52.62 271.1,52.8 271.53,54.35 271.95,53.06 272.38,53.18 272.8,54 273.16,53.78 273.52,50.78 273.88,51.94 274.24,49.41 274.6,48.8 275.03,50.62 275.45,49.08 275.88,50.59 276.3,52.8 276.73,54.67 277.15,52.52 277.57,56.66 278,56.3 278.43,54.87 278.85,58.89 279.27,55.38 279.7,57.4 280.07,52.51 280.43,53.81 280.8,48.8 281.2,48.89 281.6,51.08 282,55.1 282.43,55.95 282.85,54.82 283.27,51.15 283.7,51.7 284.05,53.68 284.4,50.73 284.75,53.15 285.1,49.86 285.45,53.52 285.8,50.78 286.15,52.66 286.5,52.3 286.88,51.36 287.27,54.12 287.65,50.3 288.03,53.45 288.42,53.12 288.8,51.7 289.23,50.54 289.65,51.96 290.07,49.11 290.5,50.6 290.86,52.53 291.22,50.09 291.58,53.54 291.94,51.04 292.3,52.8 292.67,54.75 293.03,52.05 293.4,55.45 293.77,56.61 294.13,54.62 294.5,56.3 294.88,57.16 295.27,55.97 295.65,58.16 296.03,55.61 296.42,58.83 296.8,56.8 297.18,57.25 297.57,53.93 297.95,54.47 298.33,54.6 298.72,55.78 299.1,54.6 299.48,53.77 299.87,54.21 300.25,55.56 300.63,54.49 301.02,55.81 301.4,55.1 301.78,53.07 302.17,52.2 302.55,54.95 302.93,52.59 303.32,54.25 303.7,52.8 304.08,51.91 304.47,53.61 304.85,53.54 305.23,51.69 305.62,54.35 306,52.3 306.37,53.57 306.73,50.26 307.1,50.6 307.53,52.52 307.95,50.09 308.38,50.67 308.8,52.8 309.18,55.64 309.55,55.78 309.93,54.25 310.3,55.7" fill="none" stroke="#5282a2" stroke-width="1.0" stroke-linejoin="round" opacity="0.8"/>
<rect x="34.3" y="30.3" width="276.2" height="173.0" fill="none" stroke="#222" stroke-width="0.9"/>
<line x1="31.799999999999997" y1="182.68" x2="34.3" y2="182.68" stroke="#222" stroke-width="0.7"/>
<text x="30.9" y="184.68" text-anchor="end" style="font-family:'Liberation Sans', sans-serif;font-size:5.5px;stroke:#000;stroke-width:0.16">2.5</text>
<line x1="310.5" y1="182.68" x2="313.0" y2="182.68" stroke="#222" stroke-width="0.7"/>
<text x="313.7" y="184.68" style="font-family:'Liberation Sans', sans-serif;font-size:5.5px;fill:#a8325e;stroke:#a8325e;stroke-width:0.12">2.5</text>
<line x1="31.799999999999997" y1="162.05" x2="34.3" y2="162.05" stroke="#222" stroke-width="0.7"/>
<text x="30.9" y="164.05" text-anchor="end" style="font-family:'Liberation Sans', sans-serif;font-size:5.5px;stroke:#000;stroke-width:0.16">5.0</text>
<line x1="310.5" y1="162.05" x2="313.0" y2="162.05" stroke="#222" stroke-width="0.7"/>
<text x="313.7" y="164.05" style="font-family:'Liberation Sans', sans-serif;font-size:5.5px;fill:#a8325e;stroke:#a8325e;stroke-width:0.12">5.0</text>
<line x1="31.799999999999997" y1="141.43" x2="34.3" y2="141.43" stroke="#222" stroke-width="0.7"/>
<text x="30.9" y="143.43" text-anchor="end" style="font-family:'Liberation Sans', sans-serif;font-size:5.5px;stroke:#000;stroke-width:0.16">7.5</text>
<line x1="310.5" y1="141.43" x2="313.0" y2="141.43" stroke="#222" stroke-width="0.7"/>
<text x="313.7" y="143.43" style="font-family:'Liberation Sans', sans-serif;font-size:5.5px;fill:#a8325e;stroke:#a8325e;stroke-width:0.12">7.5</text>
<line x1="31.799999999999997" y1="120.8" x2="34.3" y2="120.8" stroke="#222" stroke-width="0.7"/>
<text x="30.9" y="122.8" text-anchor="end" style="font-family:'Liberation Sans', sans-serif;font-size:5.5px;stroke:#000;stroke-width:0.16">10.0</text>
<line x1="310.5" y1="120.8" x2="313.0" y2="120.8" stroke="#222" stroke-width="0.7"/>
<text x="313.7" y="122.8" style="font-family:'Liberation Sans', sans-serif;font-size:5.5px;fill:#a8325e;stroke:#a8325e;stroke-width:0.12">10.0</text>
<line x1="31.799999999999997" y1="100.18" x2="34.3" y2="100.18" stroke="#222" stroke-width="0.7"/>
<text x="30.9" y="102.18" text-anchor="end" style="font-family:'Liberation Sans', sans-serif;font-size:5.5px;stroke:#000;stroke-width:0.16">12.5</text>
<line x1="310.5" y1="100.18" x2="313.0" y2="100.18" stroke="#222" stroke-width="0.7"/>
<text x="313.7" y="102.18" style="font-family:'Liberation Sans', sans-serif;font-size:5.5px;fill:#a8325e;stroke:#a8325e;stroke-width:0.12">12.5</text>
<line x1="31.799999999999997" y1="79.55" x2="34.3" y2="79.55" stroke="#222" stroke-width="0.7"/>
<text x="30.9" y="81.55" text-anchor="end" style="font-family:'Liberation Sans', sans-serif;font-size:5.5px;stroke:#000;stroke-width:0.16">15.0</text>
<line x1="310.5" y1="79.55" x2="313.0" y2="79.55" stroke="#222" stroke-width="0.7"/>
<text x="313.7" y="81.55" style="font-family:'Liberation Sans', sans-serif;font-size:5.5px;fill:#a8325e;stroke:#a8325e;stroke-width:0.12">15.0</text>
<line x1="31.799999999999997" y1="58.93" x2="34.3" y2="58.93" stroke="#222" stroke-width="0.7"/>
<text x="30.9" y="60.93" text-anchor="end" style="font-family:'Liberation Sans', sans-serif;font-size:5.5px;stroke:#000;stroke-width:0.16">17.5</text>
<line x1="310.5" y1="58.93" x2="313.0" y2="58.93" stroke="#222" stroke-width="0.7"/>
<text x="313.7" y="60.93" style="font-family:'Liberation Sans', sans-serif;font-size:5.5px;fill:#a8325e;stroke:#a8325e;stroke-width:0.12">17.5</text>
<line x1="31.799999999999997" y1="38.3" x2="34.3" y2="38.3" stroke="#222" stroke-width="0.7"/>
<text x="30.9" y="40.3" text-anchor="end" style="font-family:'Liberation Sans', sans-serif;font-size:5.5px;stroke:#000;stroke-width:0.16">20.0</text>
<line x1="310.5" y1="38.3" x2="313.0" y2="38.3" stroke="#222" stroke-width="0.7"/>
<text x="313.7" y="40.3" style="font-family:'Liberation Sans', sans-serif;font-size:5.5px;fill:#a8325e;stroke:#a8325e;stroke-width:0.12">20.0</text>
<line x1="34.3" y1="203.3" x2="34.3" y2="205.8" stroke="#222" stroke-width="0.7"/>
<text x="34.3" y="210.0" text-anchor="middle" style="font-family:'Liberation Sans', sans-serif;font-size:5.3px;stroke:#000;stroke-width:0.16">0</text>
<line x1="89.54" y1="203.3" x2="89.54" y2="205.8" stroke="#222" stroke-width="0.7"/>
<text x="89.54" y="210.0" text-anchor="middle" style="font-family:'Liberation Sans', sans-serif;font-size:5.3px;stroke:#000;stroke-width:0.16">20</text>
<line x1="144.78" y1="203.3" x2="144.78" y2="205.8" stroke="#222" stroke-width="0.7"/>
<text x="144.78" y="210.0" text-anchor="middle" style="font-family:'Liberation Sans', sans-serif;font-size:5.3px;stroke:#000;stroke-width:0.16">40</text>
<line x1="200.02" y1="203.3" x2="200.02" y2="205.8" stroke="#222" stroke-width="0.7"/>
<text x="200.02" y="210.0" text-anchor="middle" style="font-family:'Liberation Sans', sans-serif;font-size:5.3px;stroke:#000;stroke-width:0.16">60</text>
<line x1="255.26" y1="203.3" x2="255.26" y2="205.8" stroke="#222" stroke-width="0.7"/>
<text x="255.26" y="210.0" text-anchor="middle" style="font-family:'Liberation Sans', sans-serif;font-size:5.3px;stroke:#000;stroke-width:0.16">80</text>
<line x1="310.5" y1="203.3" x2="310.5" y2="205.8" stroke="#222" stroke-width="0.7"/>
<text x="310.5" y="210.0" text-anchor="middle" style="font-family:'Liberation Sans', sans-serif;font-size:5.3px;stroke:#000;stroke-width:0.16">100</text>
<text x="151.2" y="218.1" textLength="42" lengthAdjust="spacingAndGlyphs" style="font-family:'Liberation Sans', sans-serif;font-size:7.2px;stroke:#000;stroke-width:0.16">Time (nsec)</text>
<text transform="translate(17.3,147.3) rotate(-90)" textLength="61.4" lengthAdjust="spacingAndGlyphs" style="font-family:'Liberation Sans', sans-serif;font-size:7.2px;stroke:#000;stroke-width:0.16">Protein RMSD (Å)</text>
<text transform="translate(327.1,86.8) rotate(90)" textLength="60.1" lengthAdjust="spacingAndGlyphs" style="font-family:'Liberation Sans', sans-serif;font-size:7.4px;fill:#a8325e;stroke:#a8325e;stroke-width:0.16">Ligand RMSD (Å)</text>
<rect x="238.2" y="162.9" width="6.3" height="5.9" fill="#b02d5c"/>
<rect x="238.2" y="172.3" width="6.3" height="6.3" fill="#3f7aa0"/>
<text x="246.7" y="168.6" style="font-family:'Liberation Serif', serif;font-size:8px">Ligand fit</text>
<text x="246.7" y="177.9" style="font-family:'Liberation Serif', serif;font-size:8px">Cα</text>
<text x="343.6" y="15.1" style="font-family:'Liberation Serif', serif;font-size:15.3px">(B)</text>
<polyline points="397.7,133.7 398,133.7 399.1,135.1 400.2,134.4 401.2,140.5 401.8,148.8 402.8,141.9 403.5,139.9 404.3,150.1 404.9,152.9 406,153.6 407.1,157 408,154.9 409.1,161.1 410.1,154.9 411.2,158.4 412.1,154.9 413.1,159 414.9,163.2 416.2,161.8 417.6,157.7 419,161.1 420.3,157 422.4,155.6 424,150.8 425.4,150.1 427.2,154.2 429.2,159 430.6,163.2 432,167.3 433.4,165.9 434.7,168.6 436.1,166.6 437.5,167.9 438.8,168.6 440.2,155.6 441.6,136.4 442.5,127.5 443.6,139.2 444.6,143.3 445.7,157 446.8,167.3 448.4,166.6 449.8,166.6 451.2,154.2 452.5,150.1 453.9,154.2 455.3,154.9 456.6,161.1 458,151.5 459.4,140.5 460.5,136.4 461.4,146 462.1,144 463,152.9 464.4,146.7 465.8,157 466.8,154.2 467.9,159 468.9,150.1 470.3,152.9 471.2,144 472.3,148.8 473.4,159.7 474.4,156.3 475.3,157 476.4,150.1 477.5,159 478.5,150.1 479.5,157 480.5,150.8 481.6,154.2 483,149.5 484.4,146 485.8,145.3 487.1,148.8 488.8,154.2 490.4,160.4 492.2,165.2 493.6,169.3 495.3,172.1 497,171.4 498.4,171.4 500,167.3 501.8,163.6 503.2,164.5 504.9,167.9 506.6,169.6 508.2,171.4 510,172.1 511.8,169.3 513.4,166.6 514.8,162.5 515.9,157.3 516.8,165.2 517.8,171.4 519.2,169.3 520.3,172.1 521.6,174.1 523,172.1 524.4,176.8 525.8,173.4 527.8,172.7 530.5,171.4 532.5,169.3 534.6,166.6 536.6,161.8 538,156.3 539.4,155.6 540.8,152.2 542.1,150.8 543.2,158.4 544.2,152.2 545.5,157.7 546.6,152.2 548,154.2 549.4,147.4 550.8,146.7 552.1,140.5 553.5,136.4 554.5,126.2 555.8,126.2 556.8,132.3 557.9,140.5 559.2,142.6 560.3,135.8 561.3,140.5 562.7,132.3 563.6,138.5 564.7,132.3 565.8,135.1 567.5,140.5 569.5,147.4 571.6,154.2 573.6,161.1 575.3,167.3 576.2,146 577,120 578.1,101 579.7,72.3 580.5,55 581,34.7 582,20.4 583.2,26.4 584.2,30.5 585.1,51.1 585.9,76.4 586.7,90.8 587.3,73.3 588.3,84.6 589.3,83.6 590.4,101 592,121.6 593.5,140.1 594.9,129.8 596.5,115.4 597.6,107.2 598.6,117.5 599.6,94.9 600.6,101 601.7,72.3 602.7,80.5 603.7,90.8 604.7,66.2 606,86.5 607.1,79.7 608.3,104.8 609.4,91.1 610.5,123.1 611.7,104.8 612.8,134.5 614,116.2 615.1,136.8 616.3,123.1 617.4,139 618.5,91.1 619.7,118.5 620.8,140.2 622.3,112.2 623.3,84.8 624.1,95.8 625.5,65.6 626.8,57.4 628.2,41 629.6,54.7 631,68.4 633.2,98.5 635.1,120.4 636.4,136.8 637.8,138.2 639.2,114.9 640.5,79.3 641.9,54.7 643.3,41 644.7,57.4 646,54.7 647.4,73.8 648.8,101.2 650.1,51.9" fill="none" stroke="#4a7c9d" stroke-width="1.4" stroke-linejoin="round"/>
<rect x="397.6" y="9.1" width="253.0" height="188.3" fill="none" stroke="#222" stroke-width="0.9"/>
<line x1="394.8" y1="175.2" x2="397.6" y2="175.2" stroke="#222" stroke-width="0.8"/>
<text x="392.8" y="178.2" text-anchor="end" style="font-family:'Liberation Sans', sans-serif;font-size:8.1px;stroke:#000;stroke-width:0.16">2</text>
<line x1="394.8" y1="152.8" x2="397.6" y2="152.8" stroke="#222" stroke-width="0.8"/>
<text x="392.8" y="155.8" text-anchor="end" style="font-family:'Liberation Sans', sans-serif;font-size:8.1px;stroke:#000;stroke-width:0.16">4</text>
<line x1="394.8" y1="130.4" x2="397.6" y2="130.4" stroke="#222" stroke-width="0.8"/>
<text x="392.8" y="133.4" text-anchor="end" style="font-family:'Liberation Sans', sans-serif;font-size:8.1px;stroke:#000;stroke-width:0.16">6</text>
<line x1="394.8" y1="108" x2="397.6" y2="108" stroke="#222" stroke-width="0.8"/>
<text x="392.8" y="111" text-anchor="end" style="font-family:'Liberation Sans', sans-serif;font-size:8.1px;stroke:#000;stroke-width:0.16">8</text>
<line x1="394.8" y1="85.6" x2="397.6" y2="85.6" stroke="#222" stroke-width="0.8"/>
<text x="392.8" y="88.6" text-anchor="end" style="font-family:'Liberation Sans', sans-serif;font-size:8.1px;stroke:#000;stroke-width:0.16">10</text>
<line x1="394.8" y1="63.2" x2="397.6" y2="63.2" stroke="#222" stroke-width="0.8"/>
<text x="392.8" y="66.2" text-anchor="end" style="font-family:'Liberation Sans', sans-serif;font-size:8.1px;stroke:#000;stroke-width:0.16">12</text>
<line x1="394.8" y1="40.8" x2="397.6" y2="40.8" stroke="#222" stroke-width="0.8"/>
<text x="392.8" y="43.8" text-anchor="end" style="font-family:'Liberation Sans', sans-serif;font-size:8.1px;stroke:#000;stroke-width:0.16">14</text>
<line x1="394.8" y1="18.4" x2="397.6" y2="18.4" stroke="#222" stroke-width="0.8"/>
<text x="392.8" y="21.4" text-anchor="end" style="font-family:'Liberation Sans', sans-serif;font-size:8.1px;stroke:#000;stroke-width:0.16">16</text>
<line x1="397.6" y1="197.4" x2="397.6" y2="200.20000000000002" stroke="#222" stroke-width="0.8"/>
<text x="397.6" y="208.1" text-anchor="middle" style="font-family:'Liberation Sans', sans-serif;font-size:7.6px;stroke:#000;stroke-width:0.16">0</text>
<line x1="432.03" y1="197.4" x2="432.03" y2="200.20000000000002" stroke="#222" stroke-width="0.8"/>
<text x="432.03" y="208.1" text-anchor="middle" style="font-family:'Liberation Sans', sans-serif;font-size:7.6px;stroke:#000;stroke-width:0.16">50</text>
<line x1="466.45" y1="197.4" x2="466.45" y2="200.20000000000002" stroke="#222" stroke-width="0.8"/>
<text x="466.45" y="208.1" text-anchor="middle" style="font-family:'Liberation Sans', sans-serif;font-size:7.6px;stroke:#000;stroke-width:0.16">100</text>
<line x1="500.88" y1="197.4" x2="500.88" y2="200.20000000000002" stroke="#222" stroke-width="0.8"/>
<text x="500.88" y="208.1" text-anchor="middle" style="font-family:'Liberation Sans', sans-serif;font-size:7.6px;stroke:#000;stroke-width:0.16">150</text>
<line x1="535.3" y1="197.4" x2="535.3" y2="200.20000000000002" stroke="#222" stroke-width="0.8"/>
<text x="535.3" y="208.1" text-anchor="middle" style="font-family:'Liberation Sans', sans-serif;font-size:7.6px;stroke:#000;stroke-width:0.16">200</text>
<line x1="569.73" y1="197.4" x2="569.73" y2="200.20000000000002" stroke="#222" stroke-width="0.8"/>
<text x="569.73" y="208.1" text-anchor="middle" style="font-family:'Liberation Sans', sans-serif;font-size:7.6px;stroke:#000;stroke-width:0.16">250</text>
<line x1="604.15" y1="197.4" x2="604.15" y2="200.20000000000002" stroke="#222" stroke-width="0.8"/>
<text x="604.15" y="208.1" text-anchor="middle" style="font-family:'Liberation Sans', sans-serif;font-size:7.6px;stroke:#000;stroke-width:0.16">300</text>
<line x1="638.58" y1="197.4" x2="638.58" y2="200.20000000000002" stroke="#222" stroke-width="0.8"/>
<text x="638.58" y="208.1" text-anchor="middle" style="font-family:'Liberation Sans', sans-serif;font-size:7.6px;stroke:#000;stroke-width:0.16">350</text>
<text x="484.7" y="220.5" textLength="79.4" lengthAdjust="spacingAndGlyphs" style="font-family:'Liberation Sans', sans-serif;font-size:11.2px;stroke:#000;stroke-width:0.16">Residue Index</text>
<text transform="translate(379.9,128.3) rotate(-90)" textLength="48.3" lengthAdjust="spacingAndGlyphs" style="font-family:'Liberation Sans', sans-serif;font-size:11.7px;stroke:#000;stroke-width:0.16">RMSF (Å)</text>
<text x="3.9" y="239.5" style="font-family:'Liberation Serif', serif;font-size:15.3px">(C)</text>
<rect x="57.7" y="396.25" width="5" height="7.95" fill="#3c6cb5"/>
<rect x="70.26" y="282.79" width="5" height="121.41" fill="#7dca7e"/>
<rect x="70.26" y="275.95" width="5" height="6.84" fill="#e8147e"/>
<rect x="70.26" y="249.87" width="5" height="26.08" fill="#3c6cb5"/>
<rect x="76.54" y="401.63" width="5" height="2.56" fill="#c2b1db"/>
<rect x="76.54" y="400.52" width="5" height="1.11" fill="#3c6cb5"/>
<rect x="82.82" y="332.89" width="5" height="71.31" fill="#7dca7e"/>
<rect x="82.82" y="329.05" width="5" height="3.85" fill="#e8147e"/>
<rect x="82.82" y="268.77" width="5" height="60.28" fill="#3c6cb5"/>
<rect x="89.1" y="389.92" width="5" height="14.28" fill="#3c6cb5"/>
<rect x="101.66" y="403.69" width="5" height="0.51" fill="#3c6cb5"/>
<rect x="107.94" y="393.94" width="5" height="10.26" fill="#3c6cb5"/>
<rect x="114.22" y="374.27" width="5" height="29.93" fill="#7dca7e"/>
<rect x="114.22" y="365.3" width="5" height="8.98" fill="#c2b1db"/>
<rect x="114.22" y="323.83" width="5" height="41.47" fill="#3c6cb5"/>
<rect x="120.5" y="399.93" width="5" height="4.27" fill="#3c6cb5"/>
<rect x="126.78" y="379.83" width="5" height="24.37" fill="#3c6cb5"/>
<rect x="133.06" y="402.49" width="5" height="1.71" fill="#7dca7e"/>
<rect x="133.06" y="384.11" width="5" height="18.38" fill="#3c6cb5"/>
<rect x="139.34" y="394.37" width="5" height="9.83" fill="#3c6cb5"/>
<rect x="145.62" y="386.67" width="5" height="17.53" fill="#7dca7e"/>
<rect x="145.62" y="384.96" width="5" height="1.71" fill="#3c6cb5"/>
<rect x="158.18" y="383.25" width="5" height="20.95" fill="#c2b1db"/>
<rect x="158.18" y="360.08" width="5" height="23.17" fill="#3c6cb5"/>
<rect x="164.46" y="371.8" width="5" height="32.4" fill="#c2b1db"/>
<rect x="170.74" y="398.21" width="5" height="5.99" fill="#3c6cb5"/>
<rect x="177.02" y="400.27" width="5" height="3.93" fill="#7dca7e"/>
<rect x="177.02" y="370.26" width="5" height="30.01" fill="#3c6cb5"/>
<rect x="183.3" y="402.23" width="5" height="1.97" fill="#3c6cb5"/>
<rect x="189.58" y="403.17" width="5" height="1.03" fill="#7dca7e"/>
<rect x="189.58" y="378.21" width="5" height="24.97" fill="#3c6cb5"/>
<rect x="195.86" y="396.68" width="5" height="7.52" fill="#7dca7e"/>
<rect x="195.86" y="390.61" width="5" height="6.07" fill="#3c6cb5"/>
<rect x="208.42" y="401.12" width="5" height="3.08" fill="#7dca7e"/>
<rect x="208.42" y="381.8" width="5" height="19.32" fill="#c2b1db"/>
<rect x="208.42" y="367.95" width="5" height="13.85" fill="#3c6cb5"/>
<rect x="214.7" y="403.52" width="5" height="0.68" fill="#c2b1db"/>
<rect x="214.7" y="403.17" width="5" height="0.34" fill="#3c6cb5"/>
<rect x="220.98" y="354.61" width="5" height="49.59" fill="#c2b1db"/>
<rect x="227.26" y="401.46" width="5" height="2.74" fill="#3c6cb5"/>
<rect x="233.54" y="339.9" width="5" height="64.3" fill="#3c6cb5"/>
<rect x="239.82" y="321.69" width="5" height="82.51" fill="#c2b1db"/>
<rect x="239.82" y="319.3" width="5" height="2.39" fill="#3c6cb5"/>
<rect x="246.1" y="394.8" width="5" height="9.4" fill="#3c6cb5"/>
<rect x="252.38" y="380.69" width="5" height="23.51" fill="#c2b1db"/>
<rect x="252.38" y="375.99" width="5" height="4.7" fill="#3c6cb5"/>
<rect x="258.66" y="397.62" width="5" height="6.58" fill="#c2b1db"/>
<rect x="258.66" y="396.76" width="5" height="0.85" fill="#3c6cb5"/>
<rect x="264.94" y="403.86" width="5" height="0.34" fill="#c2b1db"/>
<rect x="277.5" y="402.75" width="5" height="1.45" fill="#3c6cb5"/>
<rect x="296.34" y="401.89" width="5" height="2.31" fill="#3c6cb5"/>
<rect x="56.1" y="241.2" width="257.4" height="163.0" fill="none" stroke="#222" stroke-width="0.9"/>
<line x1="53.6" y1="404.2" x2="56.1" y2="404.2" stroke="#222" stroke-width="0.7"/>
<text x="52.5" y="406.6" text-anchor="end" style="font-family:'Liberation Sans', sans-serif;font-size:6.7px;stroke:#000;stroke-width:0.16">0.00</text>
<line x1="53.6" y1="382.82" x2="56.1" y2="382.82" stroke="#222" stroke-width="0.7"/>
<text x="52.5" y="385.22" text-anchor="end" style="font-family:'Liberation Sans', sans-serif;font-size:6.7px;stroke:#000;stroke-width:0.16">0.25</text>
<line x1="53.6" y1="361.45" x2="56.1" y2="361.45" stroke="#222" stroke-width="0.7"/>
<text x="52.5" y="363.85" text-anchor="end" style="font-family:'Liberation Sans', sans-serif;font-size:6.7px;stroke:#000;stroke-width:0.16">0.50</text>
<line x1="53.6" y1="340.07" x2="56.1" y2="340.07" stroke="#222" stroke-width="0.7"/>
<text x="52.5" y="342.47" text-anchor="end" style="font-family:'Liberation Sans', sans-serif;font-size:6.7px;stroke:#000;stroke-width:0.16">0.75</text>
<line x1="53.6" y1="318.7" x2="56.1" y2="318.7" stroke="#222" stroke-width="0.7"/>
<text x="52.5" y="321.1" text-anchor="end" style="font-family:'Liberation Sans', sans-serif;font-size:6.7px;stroke:#000;stroke-width:0.16">1.00</text>
<line x1="53.6" y1="297.32" x2="56.1" y2="297.32" stroke="#222" stroke-width="0.7"/>
<text x="52.5" y="299.72" text-anchor="end" style="font-family:'Liberation Sans', sans-serif;font-size:6.7px;stroke:#000;stroke-width:0.16">1.25</text>
<line x1="53.6" y1="275.95" x2="56.1" y2="275.95" stroke="#222" stroke-width="0.7"/>
<text x="52.5" y="278.35" text-anchor="end" style="font-family:'Liberation Sans', sans-serif;font-size:6.7px;stroke:#000;stroke-width:0.16">1.50</text>
<line x1="53.6" y1="254.57" x2="56.1" y2="254.57" stroke="#222" stroke-width="0.7"/>
<text x="52.5" y="256.97" text-anchor="end" style="font-family:'Liberation Sans', sans-serif;font-size:6.7px;stroke:#000;stroke-width:0.16">1.75</text>
<line x1="60.2" y1="404.2" x2="60.2" y2="406.4" stroke="#222" stroke-width="0.6"/>
<text transform="translate(62.8,411.4) rotate(-45)" text-anchor="end" style="font-family:'Liberation Sans', sans-serif;font-size:5.3px;stroke:#000;stroke-width:0.22">ASP_29</text>
<line x1="66.48" y1="404.2" x2="66.48" y2="406.4" stroke="#222" stroke-width="0.6"/>
<text transform="translate(69.08,411.4) rotate(-45)" text-anchor="end" style="font-family:'Liberation Sans', sans-serif;font-size:5.3px;stroke:#000;stroke-width:0.22">GLU_30</text>
<line x1="72.76" y1="404.2" x2="72.76" y2="406.4" stroke="#222" stroke-width="0.6"/>
<text transform="translate(75.36,411.4) rotate(-45)" text-anchor="end" style="font-family:'Liberation Sans', sans-serif;font-size:5.3px;stroke:#000;stroke-width:0.22">ILE_31</text>
<line x1="79.04" y1="404.2" x2="79.04" y2="406.4" stroke="#222" stroke-width="0.6"/>
<text transform="translate(81.64,411.4) rotate(-45)" text-anchor="end" style="font-family:'Liberation Sans', sans-serif;font-size:5.3px;stroke:#000;stroke-width:0.22">GLY_32</text>
<line x1="85.32" y1="404.2" x2="85.32" y2="406.4" stroke="#222" stroke-width="0.6"/>
<text transform="translate(87.92,411.4) rotate(-45)" text-anchor="end" style="font-family:'Liberation Sans', sans-serif;font-size:5.3px;stroke:#000;stroke-width:0.22">SER_33</text>
<line x1="91.6" y1="404.2" x2="91.6" y2="406.4" stroke="#222" stroke-width="0.6"/>
<text transform="translate(94.2,411.4) rotate(-45)" text-anchor="end" style="font-family:'Liberation Sans', sans-serif;font-size:5.3px;stroke:#000;stroke-width:0.22">ASN_34</text>
<line x1="97.88" y1="404.2" x2="97.88" y2="406.4" stroke="#222" stroke-width="0.6"/>
<text transform="translate(100.48,411.4) rotate(-45)" text-anchor="end" style="font-family:'Liberation Sans', sans-serif;font-size:5.3px;stroke:#000;stroke-width:0.22">TYR_35</text>
<line x1="104.16" y1="404.2" x2="104.16" y2="406.4" stroke="#222" stroke-width="0.6"/>
<text transform="translate(106.76,411.4) rotate(-45)" text-anchor="end" style="font-family:'Liberation Sans', sans-serif;font-size:5.3px;stroke:#000;stroke-width:0.22">THR_36</text>
<line x1="110.44" y1="404.2" x2="110.44" y2="406.4" stroke="#222" stroke-width="0.6"/>
<text transform="translate(113.04,411.4) rotate(-45)" text-anchor="end" style="font-family:'Liberation Sans', sans-serif;font-size:5.3px;stroke:#000;stroke-width:0.22">LYS_37</text>
<line x1="116.72" y1="404.2" x2="116.72" y2="406.4" stroke="#222" stroke-width="0.6"/>
<text transform="translate(119.32,411.4) rotate(-45)" text-anchor="end" style="font-family:'Liberation Sans', sans-serif;font-size:5.3px;stroke:#000;stroke-width:0.22">HIS_38</text>
<line x1="123" y1="404.2" x2="123" y2="406.4" stroke="#222" stroke-width="0.6"/>
<text transform="translate(125.6,411.4) rotate(-45)" text-anchor="end" style="font-family:'Liberation Sans', sans-serif;font-size:5.3px;stroke:#000;stroke-width:0.22">GLU_39</text>
<line x1="129.28" y1="404.2" x2="129.28" y2="406.4" stroke="#222" stroke-width="0.6"/>
<text transform="translate(131.88,411.4) rotate(-45)" text-anchor="end" style="font-family:'Liberation Sans', sans-serif;font-size:5.3px;stroke:#000;stroke-width:0.22">ALA_40</text>
<line x1="135.56" y1="404.2" x2="135.56" y2="406.4" stroke="#222" stroke-width="0.6"/>
<text transform="translate(138.16,411.4) rotate(-45)" text-anchor="end" style="font-family:'Liberation Sans', sans-serif;font-size:5.3px;stroke:#000;stroke-width:0.22">LEU_41</text>
<line x1="141.84" y1="404.2" x2="141.84" y2="406.4" stroke="#222" stroke-width="0.6"/>
<text transform="translate(144.44,411.4) rotate(-45)" text-anchor="end" style="font-family:'Liberation Sans', sans-serif;font-size:5.3px;stroke:#000;stroke-width:0.22">SER_42</text>
<line x1="148.12" y1="404.2" x2="148.12" y2="406.4" stroke="#222" stroke-width="0.6"/>
<text transform="translate(150.72,411.4) rotate(-45)" text-anchor="end" style="font-family:'Liberation Sans', sans-serif;font-size:5.3px;stroke:#000;stroke-width:0.22">PRO_43</text>
<line x1="154.4" y1="404.2" x2="154.4" y2="406.4" stroke="#222" stroke-width="0.6"/>
<text transform="translate(157,411.4) rotate(-45)" text-anchor="end" style="font-family:'Liberation Sans', sans-serif;font-size:5.3px;stroke:#000;stroke-width:0.22">ARG_44</text>
<line x1="160.68" y1="404.2" x2="160.68" y2="406.4" stroke="#222" stroke-width="0.6"/>
<text transform="translate(163.28,411.4) rotate(-45)" text-anchor="end" style="font-family:'Liberation Sans', sans-serif;font-size:5.3px;stroke:#000;stroke-width:0.22">TRP_45</text>
<line x1="166.96" y1="404.2" x2="166.96" y2="406.4" stroke="#222" stroke-width="0.6"/>
<text transform="translate(169.56,411.4) rotate(-45)" text-anchor="end" style="font-family:'Liberation Sans', sans-serif;font-size:5.3px;stroke:#000;stroke-width:0.22">ASP_104</text>
<line x1="173.24" y1="404.2" x2="173.24" y2="406.4" stroke="#222" stroke-width="0.6"/>
<text transform="translate(175.84,411.4) rotate(-45)" text-anchor="end" style="font-family:'Liberation Sans', sans-serif;font-size:5.3px;stroke:#000;stroke-width:0.22">VAL_107</text>
<line x1="179.52" y1="404.2" x2="179.52" y2="406.4" stroke="#222" stroke-width="0.6"/>
<text transform="translate(182.12,411.4) rotate(-45)" text-anchor="end" style="font-family:'Liberation Sans', sans-serif;font-size:5.3px;stroke:#000;stroke-width:0.22">ILE_110</text>
<line x1="185.8" y1="404.2" x2="185.8" y2="406.4" stroke="#222" stroke-width="0.6"/>
<text transform="translate(188.4,411.4) rotate(-45)" text-anchor="end" style="font-family:'Liberation Sans', sans-serif;font-size:5.3px;stroke:#000;stroke-width:0.22">ASN_111</text>
<line x1="192.08" y1="404.2" x2="192.08" y2="406.4" stroke="#222" stroke-width="0.6"/>
<text transform="translate(194.68,411.4) rotate(-45)" text-anchor="end" style="font-family:'Liberation Sans', sans-serif;font-size:5.3px;stroke:#000;stroke-width:0.22">GLY_113</text>
<line x1="198.36" y1="404.2" x2="198.36" y2="406.4" stroke="#222" stroke-width="0.6"/>
<text transform="translate(200.96,411.4) rotate(-45)" text-anchor="end" style="font-family:'Liberation Sans', sans-serif;font-size:5.3px;stroke:#000;stroke-width:0.22">LEU_114</text>
<line x1="204.64" y1="404.2" x2="204.64" y2="406.4" stroke="#222" stroke-width="0.6"/>
<text transform="translate(207.24,411.4) rotate(-45)" text-anchor="end" style="font-family:'Liberation Sans', sans-serif;font-size:5.3px;stroke:#000;stroke-width:0.22">GLU_116</text>
<line x1="210.92" y1="404.2" x2="210.92" y2="406.4" stroke="#222" stroke-width="0.6"/>
<text transform="translate(213.52,411.4) rotate(-45)" text-anchor="end" style="font-family:'Liberation Sans', sans-serif;font-size:5.3px;stroke:#000;stroke-width:0.22">PHE_118</text>
<line x1="217.2" y1="404.2" x2="217.2" y2="406.4" stroke="#222" stroke-width="0.6"/>
<text transform="translate(219.8,411.4) rotate(-45)" text-anchor="end" style="font-family:'Liberation Sans', sans-serif;font-size:5.3px;stroke:#000;stroke-width:0.22">TYR_120</text>
<line x1="223.48" y1="404.2" x2="223.48" y2="406.4" stroke="#222" stroke-width="0.6"/>
<text transform="translate(226.08,411.4) rotate(-45)" text-anchor="end" style="font-family:'Liberation Sans', sans-serif;font-size:5.3px;stroke:#000;stroke-width:0.22">LYS_149</text>
<line x1="229.76" y1="404.2" x2="229.76" y2="406.4" stroke="#222" stroke-width="0.6"/>
<text transform="translate(232.36,411.4) rotate(-45)" text-anchor="end" style="font-family:'Liberation Sans', sans-serif;font-size:5.3px;stroke:#000;stroke-width:0.22">GLY_151</text>
<line x1="236.04" y1="404.2" x2="236.04" y2="406.4" stroke="#222" stroke-width="0.6"/>
<text transform="translate(238.64,411.4) rotate(-45)" text-anchor="end" style="font-family:'Liberation Sans', sans-serif;font-size:5.3px;stroke:#000;stroke-width:0.22">ILE_152</text>
<line x1="242.32" y1="404.2" x2="242.32" y2="406.4" stroke="#222" stroke-width="0.6"/>
<text transform="translate(244.92,411.4) rotate(-45)" text-anchor="end" style="font-family:'Liberation Sans', sans-serif;font-size:5.3px;stroke:#000;stroke-width:0.22">ASN_154</text>
<line x1="248.6" y1="404.2" x2="248.6" y2="406.4" stroke="#222" stroke-width="0.6"/>
<text transform="translate(251.2,411.4) rotate(-45)" text-anchor="end" style="font-family:'Liberation Sans', sans-serif;font-size:5.3px;stroke:#000;stroke-width:0.22">SER_156</text>
<line x1="254.88" y1="404.2" x2="254.88" y2="406.4" stroke="#222" stroke-width="0.6"/>
<text transform="translate(257.48,411.4) rotate(-45)" text-anchor="end" style="font-family:'Liberation Sans', sans-serif;font-size:5.3px;stroke:#000;stroke-width:0.22">THR_158</text>
<line x1="261.16" y1="404.2" x2="261.16" y2="406.4" stroke="#222" stroke-width="0.6"/>
<text transform="translate(263.76,411.4) rotate(-45)" text-anchor="end" style="font-family:'Liberation Sans', sans-serif;font-size:5.3px;stroke:#000;stroke-width:0.22">LEU_211</text>
<line x1="267.44" y1="404.2" x2="267.44" y2="406.4" stroke="#222" stroke-width="0.6"/>
<text transform="translate(270.04,411.4) rotate(-45)" text-anchor="end" style="font-family:'Liberation Sans', sans-serif;font-size:5.3px;stroke:#000;stroke-width:0.22">ALA_213</text>
<line x1="273.72" y1="404.2" x2="273.72" y2="406.4" stroke="#222" stroke-width="0.6"/>
<text transform="translate(276.32,411.4) rotate(-45)" text-anchor="end" style="font-family:'Liberation Sans', sans-serif;font-size:5.3px;stroke:#000;stroke-width:0.22">GLY_215</text>
<line x1="280" y1="404.2" x2="280" y2="406.4" stroke="#222" stroke-width="0.6"/>
<text transform="translate(282.6,411.4) rotate(-45)" text-anchor="end" style="font-family:'Liberation Sans', sans-serif;font-size:5.3px;stroke:#000;stroke-width:0.22">ARG_217</text>
<line x1="286.28" y1="404.2" x2="286.28" y2="406.4" stroke="#222" stroke-width="0.6"/>
<text transform="translate(288.88,411.4) rotate(-45)" text-anchor="end" style="font-family:'Liberation Sans', sans-serif;font-size:5.3px;stroke:#000;stroke-width:0.22">ASP_309</text>
<line x1="292.56" y1="404.2" x2="292.56" y2="406.4" stroke="#222" stroke-width="0.6"/>
<text transform="translate(295.16,411.4) rotate(-45)" text-anchor="end" style="font-family:'Liberation Sans', sans-serif;font-size:5.3px;stroke:#000;stroke-width:0.22">HIS_311</text>
<line x1="298.84" y1="404.2" x2="298.84" y2="406.4" stroke="#222" stroke-width="0.6"/>
<text transform="translate(301.44,411.4) rotate(-45)" text-anchor="end" style="font-family:'Liberation Sans', sans-serif;font-size:5.3px;stroke:#000;stroke-width:0.22">VAL_313</text>
<line x1="305.12" y1="404.2" x2="305.12" y2="406.4" stroke="#222" stroke-width="0.6"/>
<text transform="translate(307.72,411.4) rotate(-45)" text-anchor="end" style="font-family:'Liberation Sans', sans-serif;font-size:5.3px;stroke:#000;stroke-width:0.22">ARG_315</text>
<text transform="translate(35.1,353.9) rotate(-90)" textLength="61.8" lengthAdjust="spacingAndGlyphs" style="font-family:'Liberation Sans', sans-serif;font-size:6.2px;stroke:#000;stroke-width:0.16">Interactions Fraction</text>
<line x1="577.3" y1="247" x2="578" y2="309.5" stroke="#d8b4f8" stroke-width="0.45" stroke-dasharray="1,1.1" opacity="1"/>
<text x="577.3" y="278" text-anchor="middle" style="font-family:'Liberation Sans', sans-serif;font-size:2.2px;fill:#c07cf0">33%</text>
<line x1="536" y1="322.5" x2="546" y2="328.5" stroke="#cf9af5" stroke-width="0.55" stroke-dasharray="1.1,0.9" opacity="1"/>
<text x="540.5" y="323.5" text-anchor="middle" style="font-family:'Liberation Sans', sans-serif;font-size:2.2px;fill:#c07cf0">17%</text>
<line x1="536" y1="338" x2="546.5" y2="336.3" stroke="#cf9af5" stroke-width="0.55" stroke-dasharray="1.1,0.9" opacity="1"/>
<text x="541" y="338.2" text-anchor="middle" style="font-family:'Liberation Sans', sans-serif;font-size:2.2px;fill:#c07cf0">16%</text>
<line x1="514.8" y1="363.1" x2="537.7" y2="360.8" stroke="#cf9af5" stroke-width="0.55" stroke-dasharray="1.1,0.9" opacity="1"/>
<line x1="537.7" y1="360.8" x2="557.5" y2="366.4" stroke="#cf9af5" stroke-width="0.55" stroke-dasharray="1.1,0.9" opacity="1"/>
<text x="540.5" y="361.3" text-anchor="middle" style="font-family:'Liberation Sans', sans-serif;font-size:2.2px;fill:#c07cf0">57%</text>
<line x1="535.5" y1="371.5" x2="557.5" y2="368.4" stroke="#cf9af5" stroke-width="0.55" stroke-dasharray="1.1,0.9" opacity="1"/>
<text x="545" y="368.5" text-anchor="middle" style="font-family:'Liberation Sans', sans-serif;font-size:2.2px;fill:#c07cf0">23%</text>
<line x1="573.5" y1="321.7" x2="505" y2="409.5" stroke="#cf9af5" stroke-width="0.5" stroke-dasharray="none" opacity="0.45"/>
<line x1="514.8" y1="363.1" x2="527" y2="370.5" stroke="#cf9af5" stroke-width="0.6" stroke-dasharray="1,1" opacity="0.55"/>
<line x1="516.5" y1="391.5" x2="524.2" y2="401" stroke="#cf9af5" stroke-width="0.6" stroke-dasharray="1.1,0.9" opacity="1"/>
<line x1="516.5" y1="391.5" x2="507.5" y2="406" stroke="#cf9af5" stroke-width="0.6" stroke-dasharray="1.1,0.9" opacity="1"/>
<line x1="524.7" y1="402.5" x2="545.5" y2="412.5" stroke="#cf9af5" stroke-width="0.55" stroke-dasharray="1.1,0.9" opacity="1"/>
<text x="535" y="407" text-anchor="middle" style="font-family:'Liberation Sans', sans-serif;font-size:2.2px;fill:#c07cf0">31%</text>
<text x="510.5" y="396.5" text-anchor="middle" style="font-family:'Liberation Sans', sans-serif;font-size:2.2px;fill:#c07cf0">38%</text>
<text x="516" y="392.3" text-anchor="middle" style="font-family:'Liberation Sans', sans-serif;font-size:2.2px;fill:#c07cf0">1%</text>
<path d="M576.4,308.5 L578,312 L579.4,308.5 Z" fill="#cf9af5"/>
<path d="M544.2,326.2 L547,329.3 L545.4,325.3 Z" fill="#cf9af5"/>
<path d="M555,365 L558.2,366.8 L554.6,367.8 Z" fill="#cf9af5"/>
<path d="M555,367.2 L558.2,368.3 L555,369.6 Z" fill="#cf9af5"/>
<circle cx="508.3" cy="307.1" r="2.4" fill="#e4e4e4"/>
<circle cx="508.3" cy="320.3" r="2.4" fill="#e4e4e4"/>
<circle cx="497.3" cy="339.7" r="2.4" fill="#e4e4e4"/>
<circle cx="508.3" cy="345.6" r="2.4" fill="#e4e4e4"/>
<circle cx="519" cy="326.2" r="2.4" fill="#e4e4e4"/>
<circle cx="519" cy="339.7" r="2.4" fill="#e4e4e4"/>
<circle cx="442" cy="396" r="2.4" fill="#e4e4e4"/>
<circle cx="430.5" cy="403" r="2.4" fill="#e4e4e4"/>
<circle cx="442" cy="422.1" r="2.4" fill="#e4e4e4"/>
<circle cx="452.9" cy="415.8" r="2.4" fill="#e4e4e4"/>
<circle cx="462.5" cy="396.4" r="2.4" fill="#e4e4e4"/>
<circle cx="463.8" cy="385.1" r="2.4" fill="#e4e4e4"/>
<circle cx="552.2" cy="269.6" r="2.4" fill="#e4e4e4"/>
<circle cx="529.8" cy="282.5" r="2.4" fill="#e4e4e4"/>
<path d="M541.4,238.8 C544.05,237.08 547.08,235.65 550.5,234.8 C553.92,233.95 558.1,233.65 561.9,233.7 C565.7,233.75 570.25,234.43 573.3,235.1 C576.35,235.77 578.58,236.42 580.2,237.7 C581.82,238.98 582.58,240.8 583,242.8 C583.42,244.8 583.37,247.03 582.7,249.7 C582.03,252.37 580.57,255.95 579,258.8 C577.43,261.65 575.77,264.52 573.3,266.8 C570.83,269.08 567.33,270.75 564.2,272.5 C561.07,274.25 557.67,276.02 554.5,277.3 C551.33,278.58 548.08,278.75 545.2,280.2 C542.32,281.65 539.48,283.9 537.2,286 C534.92,288.1 533.02,290.38 531.5,292.8 C529.98,295.22 528.88,298.3 528.1,300.5 C527.32,302.7 526.9,304.33 526.8,306 C526.7,307.67 526.25,309.28 527.5,310.5 C528.75,311.72 532.58,312.22 534.3,313.3 C536.02,314.38 537.12,314.88 537.8,317 C538.48,319.12 538.32,322.5 538.4,326 C538.48,329.5 538.45,334.25 538.3,338 C538.15,341.75 538.38,345.97 537.5,348.5 C536.62,351.03 535.08,351.7 533,353.2 C530.92,354.7 527.83,356.03 525,357.5 C522.17,358.97 518.58,360.7 516,362 C513.42,363.3 510.75,364.05 509.5,365.3 C508.25,366.55 507.78,367.67 508.5,369.5 C509.22,371.33 512.43,374.08 513.8,376.3 C515.17,378.52 516.33,380.6 516.7,382.8 C517.07,385 516.87,387.8 516,389.5 C515.13,391.2 513.72,392.37 511.5,393 C509.28,393.63 506.27,393.35 502.7,393.3 C499.13,393.25 493.87,392.7 490.1,392.7 C486.33,392.7 482.6,392.68 480.1,393.3 C477.6,393.92 476.55,394.57 475.1,396.4 C473.65,398.23 472.65,401.5 471.4,404.3 C470.15,407.1 469.3,410.02 467.6,413.2 C465.9,416.38 463.97,420.63 461.2,423.4 C458.43,426.17 454.83,428.3 451,429.8 C447.17,431.3 442.67,432.08 438.2,432.4 C433.73,432.72 428.25,432.35 424.2,431.7 C420.15,431.05 416.15,430.1 413.9,428.5 C411.65,426.9 410.9,424.87 410.7,422.1 C410.5,419.33 411.32,415.52 412.7,411.9 C414.08,408.28 416.67,403.58 419,400.4 C421.33,397.22 423.72,394.82 426.7,392.8 C429.68,390.78 432.85,389.8 436.9,388.3 C440.95,386.8 447.73,385.27 451,383.8 C454.27,382.33 454.58,382.2 456.5,379.5 C458.42,376.8 460.23,371.68 462.5,367.6 C464.77,363.52 467.9,358.77 470.1,355 C472.3,351.23 474.05,347.67 475.7,345 C477.35,342.33 478.58,340.83 480,339 C481.42,337.17 482.32,336.48 484.2,334 C486.08,331.52 489.17,327.4 491.3,324.1 C493.43,320.8 495.5,317.3 497,314.2 C498.5,311.1 499.68,308.5 500.3,305.5 C500.92,302.5 500.82,299.27 500.7,296.2 C500.58,293.13 499.7,289.95 499.6,287.1 C499.5,284.25 499.35,281.2 500.1,279.1 C500.85,277 502.1,275.73 504.1,274.5 C506.1,273.27 509.25,273.02 512.1,271.7 C514.95,270.38 518.88,268.72 521.2,266.6 C523.52,264.48 524.53,261.43 526,259 C527.47,256.57 528.57,254.32 530,252 C531.43,249.68 532.7,247.3 534.6,245.1 C536.5,242.9 538.75,240.52 541.4,238.8 Z" fill="none" stroke="#000" stroke-width="1.9" stroke-linejoin="round"/>
<line x1="552.2" y1="244" x2="563.6" y2="250.8" stroke="#5a5a5a" stroke-width="0.85"/>
<line x1="563.6" y1="250.8" x2="563.6" y2="263.3" stroke="#5a5a5a" stroke-width="0.85"/>
<line x1="561.36" y1="253.51" x2="561.36" y2="260.51" stroke="#9a9a9a" stroke-width="0.9"/>
<line x1="563.6" y1="263.3" x2="552.2" y2="269.6" stroke="#5a5a5a" stroke-width="0.85"/>
<line x1="552.2" y1="269.6" x2="541.4" y2="263.3" stroke="#5a5a5a" stroke-width="0.85"/>
<line x1="551.26" y1="268.24" x2="543.05" y2="263.45" stroke="#555" stroke-width="1.7" stroke-dasharray="0.45,0.55"/>
<line x1="541.4" y1="263.3" x2="541.4" y2="250.2" stroke="#5a5a5a" stroke-width="0.85"/>
<line x1="541.4" y1="250.2" x2="552.2" y2="244" stroke="#5a5a5a" stroke-width="0.85"/>
<line x1="543.04" y1="250.06" x2="551.25" y2="245.35" stroke="#555" stroke-width="1.7" stroke-dasharray="0.45,0.55"/>
<line x1="563.6" y1="250.8" x2="571" y2="246.2" stroke="#5a5a5a" stroke-width="0.85"/>
<line x1="541.4" y1="263.3" x2="529.8" y2="269.4" stroke="#5a5a5a" stroke-width="0.85"/>
<line x1="529.8" y1="269.4" x2="529.8" y2="282.5" stroke="#9a9a9a" stroke-width="1.6"/>
<line x1="529.8" y1="282.5" x2="518.9" y2="288.8" stroke="#5a5a5a" stroke-width="0.85"/>
<line x1="518.9" y1="288.8" x2="510.4" y2="283.6" stroke="#5a5a5a" stroke-width="0.85"/>
<line x1="518.2" y1="290.4" x2="509.7" y2="285.2" stroke="#5a5a5a" stroke-width="0.85"/>
<line x1="518.9" y1="288.8" x2="518.9" y2="298.8" stroke="#5a5a5a" stroke-width="0.85"/>
<line x1="518.2" y1="303.2" x2="508.5" y2="307.3" stroke="#5a5a5a" stroke-width="0.85"/>
<line x1="508.3" y1="307.3" x2="508.3" y2="320.3" stroke="#5a5a5a" stroke-width="0.85"/>
<line x1="498.8" y1="325.6" x2="508.3" y2="320.3" stroke="#5a5a5a" stroke-width="0.85"/>
<line x1="508.3" y1="320.3" x2="519" y2="326.2" stroke="#5a5a5a" stroke-width="0.85"/>
<line x1="519" y1="326.2" x2="519" y2="339.7" stroke="#5a5a5a" stroke-width="0.85"/>
<line x1="519" y1="339.7" x2="508.3" y2="345.6" stroke="#5a5a5a" stroke-width="0.85"/>
<line x1="508.3" y1="345.6" x2="497.3" y2="339.7" stroke="#5a5a5a" stroke-width="0.85"/>
<line x1="497" y1="328.40000000000003" x2="497.3" y2="339.7" stroke="#5a5a5a" stroke-width="0.85"/>
<path d="M519,326.2 L527.5,320.2 L528,322.3 Z" fill="#111"/>
<line x1="519" y1="339.7" x2="527.8" y2="345.3" stroke="#5a5a5a" stroke-width="0.85"/>
<path d="M508.3,345.6 L507.4,355.6 L509.2,355.6 Z" fill="#111"/>
<line x1="497.3" y1="339.7" x2="487.5" y2="345.3" stroke="#5a5a5a" stroke-width="0.85"/>
<line x1="485.7" y1="348.3" x2="485.7" y2="358.8" stroke="#5a5a5a" stroke-width="0.85"/>
<line x1="485.7" y1="358.8" x2="496.4" y2="365.1" stroke="#5a5a5a" stroke-width="0.85"/>
<line x1="486.64" y1="360.17" x2="494.77" y2="364.95" stroke="#555" stroke-width="1.7" stroke-dasharray="0.45,0.55"/>
<line x1="496.4" y1="365.1" x2="496.4" y2="377.9" stroke="#5a5a5a" stroke-width="0.85"/>
<line x1="496.4" y1="377.9" x2="485.7" y2="383.6" stroke="#5a5a5a" stroke-width="0.85"/>
<line x1="494.77" y1="377.98" x2="486.64" y2="382.31" stroke="#555" stroke-width="1.7" stroke-dasharray="0.45,0.55"/>
<line x1="485.7" y1="383.6" x2="475.1" y2="377.9" stroke="#5a5a5a" stroke-width="0.85"/>
<line x1="475.1" y1="377.9" x2="475.1" y2="365.1" stroke="#5a5a5a" stroke-width="0.85"/>
<line x1="477.23" y1="375.06" x2="477.23" y2="367.9" stroke="#9a9a9a" stroke-width="0.9"/>
<line x1="475.1" y1="365.1" x2="485.7" y2="358.8" stroke="#5a5a5a" stroke-width="0.85"/>
<line x1="496.4" y1="377.9" x2="505.2" y2="382.7" stroke="#5a5a5a" stroke-width="0.85"/>
<line x1="475.1" y1="377.9" x2="463.8" y2="385.1" stroke="#5a5a5a" stroke-width="0.85"/>
<line x1="463.8" y1="385.1" x2="462.5" y2="396.4" stroke="#9a9a9a" stroke-width="1.6"/>
<line x1="462.5" y1="396.4" x2="452.9" y2="403" stroke="#5a5a5a" stroke-width="0.85"/>
<line x1="442" y1="396" x2="452.9" y2="403" stroke="#5a5a5a" stroke-width="0.85"/>
<line x1="442.96" y1="397.45" x2="451.24" y2="402.77" stroke="#555" stroke-width="1.7" stroke-dasharray="0.45,0.55"/>
<line x1="452.9" y1="403" x2="452.9" y2="415.8" stroke="#5a5a5a" stroke-width="0.85"/>
<line x1="452.9" y1="415.8" x2="442" y2="422.1" stroke="#5a5a5a" stroke-width="0.85"/>
<line x1="451.24" y1="415.95" x2="442.95" y2="420.74" stroke="#555" stroke-width="1.7" stroke-dasharray="0.45,0.55"/>
<line x1="442" y1="422.1" x2="430.5" y2="415.8" stroke="#5a5a5a" stroke-width="0.85"/>
<line x1="430.5" y1="415.8" x2="430.5" y2="403" stroke="#5a5a5a" stroke-width="0.85"/>
<line x1="432.76" y1="412.96" x2="432.76" y2="405.79" stroke="#9a9a9a" stroke-width="0.9"/>
<line x1="430.5" y1="403" x2="442" y2="396" stroke="#5a5a5a" stroke-width="0.85"/>
<line x1="430.5" y1="415.8" x2="422.9" y2="420.4" stroke="#5a5a5a" stroke-width="0.85"/>
<text x="572.3" y="246.2" text-anchor="start" textLength="5.9" lengthAdjust="spacingAndGlyphs" style="font-family:'Liberation Sans', sans-serif;font-size:5.0px;fill:#f0202e;stroke:#f0202e;stroke-width:0.15">OH</text>
<text x="508.1" y="284.4" text-anchor="middle" style="font-family:'Liberation Sans', sans-serif;font-size:5.0px;fill:#f0202e;stroke:#f0202e;stroke-width:0.15">O</text>
<text x="518.9" y="303.3" text-anchor="middle" style="font-family:'Liberation Sans', sans-serif;font-size:5.0px;fill:#f0202e;stroke:#f0202e;stroke-width:0.15">O</text>
<text x="497" y="328.5" text-anchor="middle" style="font-family:'Liberation Sans', sans-serif;font-size:5.0px;fill:#f0202e;stroke:#f0202e;stroke-width:0.15">O</text>
<text x="485.7" y="348.1" text-anchor="middle" style="font-family:'Liberation Sans', sans-serif;font-size:5.0px;fill:#f0202e;stroke:#f0202e;stroke-width:0.15">O</text>
<text x="529.2" y="322.5" text-anchor="start" textLength="5.9" lengthAdjust="spacingAndGlyphs" style="font-family:'Liberation Sans', sans-serif;font-size:5.0px;fill:#f0202e;stroke:#f0202e;stroke-width:0.15">OH</text>
<text x="529.2" y="348" text-anchor="start" textLength="5.9" lengthAdjust="spacingAndGlyphs" style="font-family:'Liberation Sans', sans-serif;font-size:5.0px;fill:#f0202e;stroke:#f0202e;stroke-width:0.15">OH</text>
<text x="506.2" y="360.1" text-anchor="start" textLength="5.9" lengthAdjust="spacingAndGlyphs" style="font-family:'Liberation Sans', sans-serif;font-size:5.0px;fill:#f0202e;stroke:#f0202e;stroke-width:0.15">OH</text>
<text x="506" y="386.3" text-anchor="start" textLength="5.9" lengthAdjust="spacingAndGlyphs" style="font-family:'Liberation Sans', sans-serif;font-size:5.0px;fill:#f0202e;stroke:#f0202e;stroke-width:0.15">OH</text>
<text x="414.6" y="423.9" text-anchor="start" textLength="5.9" lengthAdjust="spacingAndGlyphs" style="font-family:'Liberation Sans', sans-serif;font-size:5.0px;fill:#f0202e;stroke:#f0202e;stroke-width:0.15">HO</text>
<defs><radialGradient id="g520238" cx="40%" cy="35%" r="70%"><stop offset="0" stop-color="#d4ee80"/><stop offset="1" stop-color="#a2d22e"/></radialGradient></defs>
<circle cx="520.3" cy="238.9" r="5.9" fill="url(#g520238)"/>
<text x="520.3" y="236.05" text-anchor="middle" style="font-family:'Liberation Sans', sans-serif;font-size:2.6px;fill:#333">A</text>
<text x="520.3" y="239.85" text-anchor="middle" style="font-family:'Liberation Sans', sans-serif;font-size:2.6px;fill:#333">TYR</text>
<text x="520.3" y="243.65" text-anchor="middle" style="font-family:'Liberation Sans', sans-serif;font-size:2.6px;fill:#333">38</text>
<defs><radialGradient id="g578316" cx="40%" cy="35%" r="70%"><stop offset="0" stop-color="#d4ee80"/><stop offset="1" stop-color="#a2d22e"/></radialGradient></defs>
<circle cx="578.1" cy="316.6" r="5.8" fill="url(#g578316)"/>
<text x="578.1" y="313.75" text-anchor="middle" style="font-family:'Liberation Sans', sans-serif;font-size:2.6px;fill:#333">A</text>
<text x="578.1" y="317.55" text-anchor="middle" style="font-family:'Liberation Sans', sans-serif;font-size:2.6px;fill:#333">ILE</text>
<text x="578.1" y="321.35" text-anchor="middle" style="font-family:'Liberation Sans', sans-serif;font-size:2.6px;fill:#333">40</text>
<defs><radialGradient id="g551331" cx="40%" cy="35%" r="70%"><stop offset="0" stop-color="#f8b48c"/><stop offset="1" stop-color="#e8783c"/></radialGradient></defs>
<circle cx="551.8" cy="331.7" r="5.8" fill="url(#g551331)"/>
<text x="551.8" y="328.85" text-anchor="middle" style="font-family:'Liberation Sans', sans-serif;font-size:2.6px;fill:#333">A</text>
<text x="551.8" y="332.65" text-anchor="middle" style="font-family:'Liberation Sans', sans-serif;font-size:2.6px;fill:#333">ASP</text>
<text x="551.8" y="336.45" text-anchor="middle" style="font-family:'Liberation Sans', sans-serif;font-size:2.6px;fill:#333">46</text>
<defs><radialGradient id="g563367" cx="40%" cy="35%" r="70%"><stop offset="0" stop-color="#f8b48c"/><stop offset="1" stop-color="#e8783c"/></radialGradient></defs>
<circle cx="563.3" cy="367.2" r="5.7" fill="url(#g563367)"/>
<text x="563.3" y="364.35" text-anchor="middle" style="font-family:'Liberation Sans', sans-serif;font-size:2.6px;fill:#333">A</text>
<text x="563.3" y="368.15" text-anchor="middle" style="font-family:'Liberation Sans', sans-serif;font-size:2.6px;fill:#333">GLU</text>
<text x="563.3" y="371.95" text-anchor="middle" style="font-family:'Liberation Sans', sans-serif;font-size:2.6px;fill:#333">52</text>
<defs><radialGradient id="g550415" cx="40%" cy="35%" r="70%"><stop offset="0" stop-color="#d4f4fd"/><stop offset="1" stop-color="#84d6f4"/></radialGradient></defs>
<circle cx="550.9" cy="415.3" r="5.8" fill="url(#g550415)"/>
<text x="550.9" y="412.45" text-anchor="middle" style="font-family:'Liberation Sans', sans-serif;font-size:2.6px;fill:#333">A</text>
<text x="550.9" y="416.25" text-anchor="middle" style="font-family:'Liberation Sans', sans-serif;font-size:2.6px;fill:#333">THR</text>
<text x="550.9" y="420.05" text-anchor="middle" style="font-family:'Liberation Sans', sans-serif;font-size:2.6px;fill:#333">60</text>
<circle cx="529.5" cy="372.8" r="4" fill="#dcdcdc"/>
<text x="529.5" y="373.7" text-anchor="middle" style="font-family:'Liberation Sans', sans-serif;font-size:2.4px;fill:#777">H2O</text>
<circle cx="524.7" cy="402.5" r="4" fill="#dcdcdc"/>
<text x="524.7" y="403.4" text-anchor="middle" style="font-family:'Liberation Sans', sans-serif;font-size:2.4px;fill:#777">H2O</text>
<circle cx="506.2" cy="408.9" r="4" fill="#dcdcdc"/>
<text x="506.2" y="409.79999999999995" text-anchor="middle" style="font-family:'Liberation Sans', sans-serif;font-size:2.4px;fill:#777">H2O</text>
<text x="344.1" y="238.9" style="font-family:'Liberation Serif', serif;font-size:15.3px">(D)</text>
<line x1="340.5" y1="0" x2="340.5" y2="437" stroke="#222" stroke-width="1"/>
<line x1="0" y1="225.5" x2="669" y2="225.5" stroke="#333" stroke-width="1"/>
<rect x="0" y="0" width="669" height="2" fill="#8c8c8c"/>
<rect x="0" y="0" width="2" height="437" fill="#8c8c8c"/>
<rect x="667.3" y="0" width="1.7" height="437" fill="#4a4a4a"/>
<rect x="0" y="435.4" width="669" height="1.6" fill="#3a3a3a"/>
<rect x="0" y="437" width="669" height="1" fill="#e6e6e6"/>
</svg></div></body></html>
